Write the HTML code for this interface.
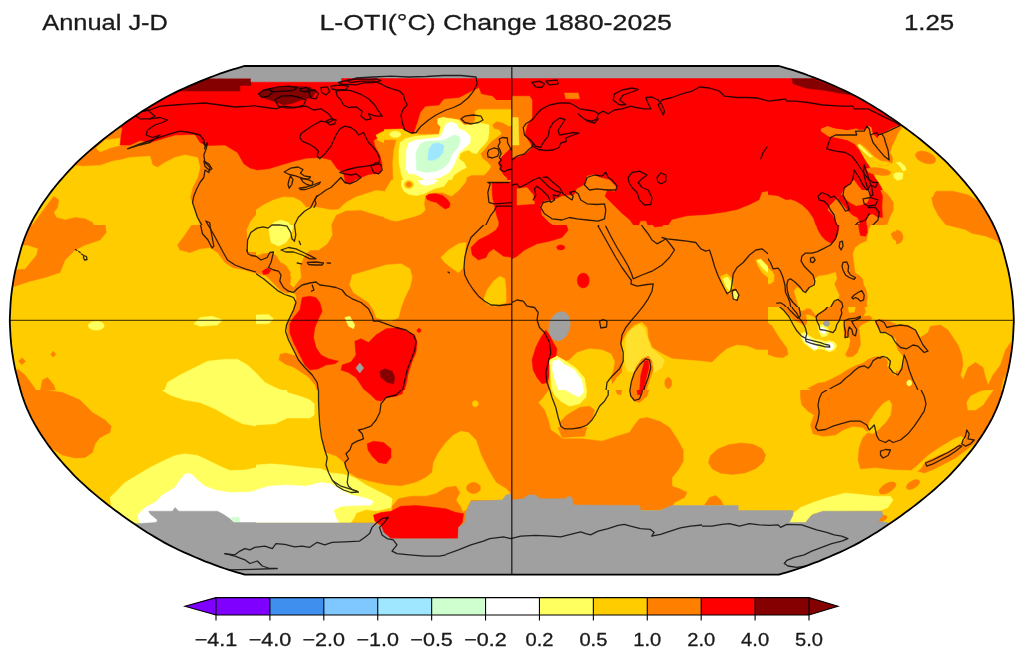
<!DOCTYPE html><html><head><meta charset="utf-8"><title>map</title><style>html,body{margin:0;padding:0;background:#fff;width:1027px;height:660px;overflow:hidden}</style></head><body><svg width="1027" height="660" viewBox="0 0 1027 660" style="position:absolute;left:0;top:0;font-family:'Liberation Sans',sans-serif">
<defs><clipPath id="m"><path d="M779.0 66.0 L782.9 67.2 L786.8 68.3 L790.7 69.4 L794.7 70.7 L799.0 72.1 L803.7 73.7 L808.5 75.5 L813.5 77.4 L818.6 79.3 L823.7 81.4 L828.9 83.6 L834.2 85.9 L839.5 88.2 L844.7 90.6 L849.7 93.1 L854.5 95.5 L859.2 98.0 L863.7 100.6 L868.2 103.2 L872.5 105.8 L876.8 108.4 L881.0 111.1 L885.1 113.8 L889.1 116.6 L893.2 119.3 L897.2 122.1 L901.1 124.9 L905.0 127.8 L908.9 130.6 L912.7 133.5 L916.5 136.4 L920.2 139.3 L923.8 142.2 L927.4 145.2 L931.0 148.2 L934.4 151.1 L937.8 154.2 L941.1 157.2 L944.4 160.2 L947.5 163.2 L950.5 166.3 L953.4 169.4 L956.2 172.4 L959.0 175.5 L961.7 178.6 L964.4 181.7 L967.0 184.8 L969.6 188.0 L972.1 191.1 L974.4 194.2 L976.7 197.4 L978.9 200.5 L981.0 203.6 L983.1 206.8 L985.0 209.9 L986.9 213.1 L988.8 216.2 L990.5 219.4 L992.2 222.5 L993.7 225.7 L995.2 228.9 L996.6 232.0 L997.9 235.2 L999.1 238.3 L1000.2 241.5 L1001.3 244.6 L1002.3 247.8 L1003.2 250.9 L1004.0 254.1 L1004.9 257.2 L1005.7 260.4 L1006.5 263.5 L1007.3 266.7 L1008.1 269.8 L1008.8 273.0 L1009.4 276.2 L1010.0 279.3 L1010.5 282.5 L1011.0 285.6 L1011.5 288.8 L1011.9 291.9 L1012.3 295.1 L1012.6 298.2 L1012.9 301.4 L1013.1 304.5 L1013.3 308.2 L1013.5 312.4 L1013.7 316.3 L1013.8 319.2 L1013.8 320.3 L1013.8 321.4 L1013.7 324.3 L1013.5 328.2 L1013.3 332.4 L1013.1 336.1 L1012.9 339.2 L1012.6 342.4 L1012.3 345.5 L1011.9 348.7 L1011.5 351.8 L1011.0 355.0 L1010.5 358.1 L1010.0 361.3 L1009.4 364.4 L1008.8 367.6 L1008.1 370.8 L1007.3 373.9 L1006.5 377.1 L1005.7 380.2 L1004.9 383.4 L1004.0 386.5 L1003.2 389.7 L1002.3 392.8 L1001.3 396.0 L1000.2 399.1 L999.1 402.3 L997.9 405.4 L996.6 408.6 L995.2 411.7 L993.7 414.9 L992.2 418.1 L990.5 421.2 L988.8 424.4 L986.9 427.5 L985.0 430.7 L983.1 433.8 L981.0 437.0 L978.9 440.1 L976.7 443.2 L974.4 446.4 L972.1 449.5 L969.6 452.6 L967.0 455.8 L964.4 458.9 L961.7 462.0 L959.0 465.1 L956.2 468.2 L953.4 471.2 L950.5 474.3 L947.5 477.4 L944.4 480.4 L941.1 483.4 L937.8 486.4 L934.4 489.5 L931.0 492.4 L927.4 495.4 L923.8 498.4 L920.2 501.3 L916.5 504.2 L912.7 507.1 L908.9 510.0 L905.0 512.8 L901.1 515.7 L897.2 518.5 L893.2 521.3 L889.1 524.0 L885.1 526.8 L881.0 529.5 L876.8 532.2 L872.5 534.8 L868.2 537.4 L863.7 540.0 L859.2 542.6 L854.5 545.1 L849.7 547.5 L844.7 550.0 L839.5 552.4 L834.2 554.7 L828.9 557.0 L823.7 559.2 L818.6 561.3 L813.5 563.2 L808.5 565.1 L803.7 566.9 L799.0 568.5 L794.7 569.9 L790.7 571.2 L786.8 572.3 L782.9 573.4 L779.0 574.6 L244.6 574.6 L240.7 573.4 L236.8 572.3 L232.9 571.2 L228.9 569.9 L224.6 568.5 L219.9 566.9 L215.1 565.1 L210.1 563.2 L205.0 561.3 L199.9 559.2 L194.7 557.0 L189.4 554.7 L184.1 552.4 L178.9 550.0 L173.9 547.5 L169.1 545.1 L164.4 542.6 L159.9 540.0 L155.4 537.4 L151.1 534.8 L146.8 532.2 L142.6 529.5 L138.5 526.8 L134.5 524.0 L130.4 521.3 L126.4 518.5 L122.5 515.7 L118.6 512.8 L114.7 510.0 L110.9 507.1 L107.1 504.2 L103.4 501.3 L99.8 498.4 L96.2 495.4 L92.6 492.4 L89.2 489.5 L85.8 486.4 L82.5 483.4 L79.2 480.4 L76.1 477.4 L73.1 474.3 L70.2 471.2 L67.4 468.2 L64.6 465.1 L61.9 462.0 L59.2 458.9 L56.6 455.8 L54.0 452.6 L51.5 449.5 L49.2 446.4 L46.9 443.2 L44.7 440.1 L42.6 437.0 L40.5 433.8 L38.6 430.7 L36.7 427.5 L34.8 424.4 L33.1 421.2 L31.4 418.1 L29.9 414.9 L28.4 411.7 L27.0 408.6 L25.7 405.4 L24.5 402.3 L23.4 399.1 L22.3 396.0 L21.3 392.8 L20.4 389.7 L19.6 386.5 L18.7 383.4 L17.9 380.2 L17.1 377.1 L16.3 373.9 L15.5 370.8 L14.8 367.6 L14.2 364.4 L13.6 361.3 L13.1 358.1 L12.6 355.0 L12.1 351.8 L11.7 348.7 L11.3 345.5 L11.0 342.4 L10.7 339.2 L10.5 336.1 L10.3 332.4 L10.1 328.2 L9.9 324.3 L9.8 321.4 L9.8 320.3 L9.8 319.2 L9.9 316.3 L10.1 312.4 L10.3 308.2 L10.5 304.5 L10.7 301.4 L11.0 298.2 L11.3 295.1 L11.7 291.9 L12.1 288.8 L12.6 285.6 L13.1 282.5 L13.6 279.3 L14.2 276.2 L14.8 273.0 L15.5 269.8 L16.3 266.7 L17.1 263.5 L17.9 260.4 L18.7 257.2 L19.6 254.1 L20.4 250.9 L21.3 247.8 L22.3 244.6 L23.4 241.5 L24.5 238.3 L25.7 235.2 L27.0 232.0 L28.4 228.9 L29.9 225.7 L31.4 222.5 L33.1 219.4 L34.8 216.2 L36.7 213.1 L38.6 209.9 L40.5 206.8 L42.6 203.6 L44.7 200.5 L46.9 197.4 L49.2 194.2 L51.5 191.1 L54.0 188.0 L56.6 184.8 L59.2 181.7 L61.9 178.6 L64.6 175.5 L67.4 172.4 L70.2 169.4 L73.1 166.3 L76.1 163.2 L79.2 160.2 L82.5 157.2 L85.8 154.2 L89.2 151.1 L92.6 148.2 L96.2 145.2 L99.8 142.2 L103.4 139.3 L107.1 136.4 L110.9 133.5 L114.7 130.6 L118.6 127.8 L122.5 124.9 L126.4 122.1 L130.4 119.3 L134.5 116.6 L138.5 113.8 L142.6 111.1 L146.8 108.4 L151.1 105.8 L155.4 103.2 L159.9 100.6 L164.4 98.0 L169.1 95.5 L173.9 93.1 L178.9 90.6 L184.1 88.2 L189.4 85.9 L194.7 83.6 L199.9 81.4 L205.0 79.3 L210.1 77.4 L215.1 75.5 L219.9 73.7 L224.6 72.1 L228.9 70.7 L232.9 69.4 L236.8 68.3 L240.7 67.2 L244.6 66.0Z"/></clipPath></defs>
<g clip-path="url(#m)">
<rect x="0" y="60" width="1027" height="520" fill="#ff8000"/>
<clipPath id="c0"><rect x="0.0" y="60.0" width="256.0" height="165.0"/></clipPath>
<g clip-path="url(#c0)">
<rect x="0.0" y="60.0" width="256.0" height="165.0" fill="#ff8000"/>
<path d="M83.8 166.2 100.0 165.5 112.5 161.2 120.0 160.0 130.0 157.5 150.0 156.2 152.5 165.0 157.5 167.5 165.0 162.5 175.0 157.5 185.0 155.0 197.5 157.5 200.0 167.5 197.5 177.5 192.5 187.5 190.0 197.5 193.8 207.5 197.5 217.5 200.0 227.5 0.0 227.5 0.0 160.0Z" fill="#ffcc00" stroke="#ffcc00" stroke-width="0.5" stroke-linejoin="round"/>
<path d="M96.2 148.0 105.0 140.0 121.2 138.0 121.2 145.0 110.0 148.0 100.0 152.0Z" fill="#ffcc00" stroke="#ffcc00" stroke-width="0.5" stroke-linejoin="round"/>
<path d="M25.0 235.0 53.8 196.2 58.8 200.0 57.5 207.5 53.8 212.5 56.2 217.5 65.0 220.0 75.0 217.5 85.0 218.8 92.5 222.5 95.0 227.5Z" fill="#ff8000" stroke="#ff8000" stroke-width="0.5" stroke-linejoin="round"/>
<path d="M117.5 123.8 122.5 128.8 121.2 135.0 120.0 145.0 130.0 145.0 140.0 140.5 150.0 142.5 160.0 139.5 175.0 135.0 195.0 134.5 200.0 142.5 207.5 145.5 225.0 145.0 237.5 152.5 243.8 163.8 250.0 168.0 257.5 170.0 257.5 60.0 117.5 60.0Z" fill="#ff0000" stroke="#ff0000" stroke-width="0.5" stroke-linejoin="round"/>
<path d="M150.0 78.5 251.0 78.5 251.0 85.5 240.0 85.5 240.0 91.0 150.0 91.0Z" fill="#850000" stroke="#850000" stroke-width="0.5" stroke-linejoin="round"/>
<path d="M200.0 60.0 257.5 60.0 257.5 81.8 251.0 81.8 251.0 78.2 200.0 78.2Z" fill="#a0a0a0" stroke="#a0a0a0" stroke-width="0.5" stroke-linejoin="round"/>
</g>
<clipPath id="c1"><rect x="256.0" y="60.0" width="256.0" height="165.0"/></clipPath>
<g clip-path="url(#c1)">
<rect x="256.0" y="60.0" width="256.0" height="165.0" fill="#ff8000"/>
<path d="M256.0 170.0 268.5 168.8 281.0 165.0 293.5 161.2 306.0 158.2 321.0 157.5 331.0 160.0 337.2 168.8 343.5 173.0 345.5 183.0 351.0 183.0 356.0 179.5 368.5 174.5 380.5 173.0 382.2 165.0 379.8 155.0 374.8 146.2 373.5 140.5 381.0 135.0 391.0 128.0 401.0 126.2 408.5 131.2 413.5 133.0 416.0 122.5 425.0 108.8 441.5 104.5 444.0 98.8 459.0 97.5 471.5 91.0 479.0 87.5 481.5 93.8 492.8 96.0 496.5 100.0 513.5 100.0 513.5 60.0 256.0 60.0Z" fill="#ff0000" stroke="#ff0000" stroke-width="0.5" stroke-linejoin="round"/>
<path d="M259.8 92.5 266.0 88.8 281.0 87.5 296.0 86.2 309.8 87.0 316.0 91.2 312.2 97.5 301.0 100.0 293.5 103.0 283.5 105.0 273.5 101.2 266.0 98.8 259.8 96.2Z" fill="#850000" stroke="#850000" stroke-width="0.5" stroke-linejoin="round"/>
<path d="M256.0 210.0 263.5 205.0 273.5 200.0 283.5 197.0 293.5 197.5 301.0 201.2 306.0 207.5 313.5 207.0 321.0 208.0 331.0 210.0 338.5 209.5 346.0 202.5 356.0 197.0 368.5 193.0 376.0 190.5 386.0 191.5 391.0 185.0 394.0 172.5 393.0 160.0 394.8 147.5 386.0 143.8 378.5 140.5 376.0 135.0 383.5 131.2 396.0 130.0 403.5 135.0 416.0 135.0 481.0 135.0 481.0 200.0 416.0 190.0 426.0 200.0 431.0 210.0 416.0 220.0 396.0 218.8 381.0 216.2 361.0 210.0 346.0 210.5 336.0 215.0 329.8 227.5 256.0 227.5Z" fill="#ffcc00" stroke="#ffcc00" stroke-width="0.5" stroke-linejoin="round"/>
<path d="M383.5 135.0 387.2 131.2 396.0 131.2 399.8 135.0 396.0 138.0 387.2 138.0Z" fill="#ffff5f" stroke="#ffff5f" stroke-width="0.5" stroke-linejoin="round"/>
<path d="M269.8 227.5 273.5 222.5 281.0 220.0 288.5 222.5 291.0 227.5Z" fill="#ffff5f" stroke="#ffff5f" stroke-width="0.5" stroke-linejoin="round"/>
<path d="M256.0 60.0 513.5 60.0 513.5 78.0 341.0 78.0 341.0 81.8 256.0 81.8Z" fill="#a0a0a0" stroke="#a0a0a0" stroke-width="0.5" stroke-linejoin="round"/>
</g>
<clipPath id="c2"><rect x="384.0" y="100.0" width="128.0" height="82.0"/></clipPath>
<g clip-path="url(#c2)">
<rect x="384.0" y="100.0" width="128.0" height="82.0" fill="#ff8000"/>
<path d="M384.0 129.4 401.5 128.5 406.5 130.6 413.4 133.5 421.5 134.4 439.0 134.4 440.9 126.9 437.8 123.8 437.8 118.8 442.8 117.5 451.5 118.8 459.0 120.0 464.0 125.0 471.5 125.0 475.2 120.0 475.2 111.2 479.0 109.4 512.8 109.4 512.8 125.0 509.0 126.2 502.8 122.5 496.5 121.2 492.1 125.0 494.0 128.8 499.0 130.0 501.5 133.8 496.5 137.5 491.5 141.2 489.0 143.8 484.0 150.0 480.2 153.8 482.8 158.8 487.8 162.5 490.9 166.2 489.0 170.0 484.0 175.0 471.5 175.0 466.5 177.5 465.2 183.8 393.4 183.8 392.8 162.5 394.0 150.0 396.5 140.0 391.5 139.4 384.0 139.8Z" fill="#ffcc00" stroke="#ffcc00" stroke-width="0.5" stroke-linejoin="round"/>
<path d="M384.0 100.0 442.8 100.0 439.0 105.0 425.2 106.2 420.2 112.5 416.8 123.8 413.4 133.5 406.5 130.6 401.5 128.5 384.0 129.0Z" fill="#ff0000" stroke="#ff0000" stroke-width="0.5" stroke-linejoin="round"/>
<path d="M512.8 146.9 506.5 152.5 501.5 157.5 499.0 163.8 500.9 170.0 504.0 175.0 507.8 178.1 507.1 181.9 512.8 182.5Z" fill="#ff0000" stroke="#ff0000" stroke-width="0.5" stroke-linejoin="round"/>
<path d="M400.9 134.4 400.3 135.7 398.8 136.8 396.5 137.4 394.0 137.4 391.7 136.8 390.2 135.7 389.6 134.4 390.2 133.0 391.7 131.9 394.0 131.3 396.5 131.3 398.8 131.9 400.3 133.0Z" fill="#ffff5f" stroke="#ffff5f" stroke-width="0.5" stroke-linejoin="round"/>
<path d="M399.0 150.0 400.2 142.5 405.2 138.8 415.2 136.2 439.0 134.4 440.9 126.9 437.8 123.8 438.0 118.8 442.8 117.5 451.5 118.8 459.0 120.0 464.0 125.0 471.5 125.0 475.2 122.5 484.0 123.8 489.0 125.0 489.0 132.5 487.8 140.0 484.0 145.0 479.0 150.0 476.5 153.8 471.5 152.5 469.0 150.0 464.0 151.2 460.2 153.8 459.0 158.8 464.0 162.5 466.5 167.5 461.5 170.0 454.0 175.0 451.5 180.0 446.5 183.8 405.2 183.8 401.5 175.0 399.0 162.5Z" fill="#ffff5f" stroke="#ffff5f" stroke-width="0.5" stroke-linejoin="round"/>
<path d="M405.9 170.0 406.5 150.0 409.0 142.5 416.5 140.0 439.0 137.5 442.8 132.5 445.2 125.0 450.2 121.9 456.5 123.8 459.0 128.8 465.2 131.2 470.2 136.2 470.2 142.5 465.2 147.5 459.0 152.5 456.5 158.8 454.0 165.0 449.0 172.5 440.2 177.5 431.5 180.0 425.2 180.0 419.0 176.2 414.0 173.8 409.0 173.8Z" fill="#ffffff" stroke="#ffffff" stroke-width="0.5" stroke-linejoin="round"/>
<path d="M416.5 170.0 415.9 152.5 420.2 143.8 426.5 141.2 442.8 140.6 449.0 137.5 454.0 135.0 459.0 136.2 460.2 141.2 457.8 147.5 451.5 155.0 449.0 162.5 444.0 167.5 436.5 171.2 426.5 172.5 420.2 171.2Z" fill="#cfffcf" stroke="#cfffcf" stroke-width="0.5" stroke-linejoin="round"/>
<path d="M427.8 158.8 429.0 148.8 432.8 143.8 439.0 143.1 444.0 145.6 442.8 152.5 439.0 157.5 434.0 160.0 429.0 160.6Z" fill="#9fe7ff" stroke="#9fe7ff" stroke-width="0.5" stroke-linejoin="round"/>
<path d="M512.8 146.9 506.5 152.5 501.5 157.5 499.0 163.8 500.9 170.0 504.0 175.0 507.8 178.1 507.1 181.9 512.8 182.5Z" fill="#ff0000" stroke="#ff0000" stroke-width="0.5" stroke-linejoin="round"/>
</g>
<clipPath id="c3"><rect x="384.0" y="180.0" width="128.0" height="82.0"/></clipPath>
<g clip-path="url(#c3)">
<rect x="384.0" y="180.0" width="128.0" height="82.0" fill="#ff8000"/>
<path d="M391.5 180.0 387.8 186.2 384.0 192.5 384.0 217.5 390.2 220.0 396.5 221.2 402.8 219.4 415.2 216.2 421.5 213.8 425.2 210.0 424.0 203.8 425.2 196.2 434.0 192.5 442.8 192.5 451.5 196.2 459.0 190.0 465.2 182.5 466.5 179.4 391.5 179.4Z" fill="#ffcc00" stroke="#ffcc00" stroke-width="0.5" stroke-linejoin="round"/>
<path d="M401.5 179.4 401.5 186.2 404.0 191.2 409.0 194.4 416.5 195.6 424.0 193.8 434.0 188.8 444.0 186.2 449.0 179.4Z" fill="#ffff5f" stroke="#ffff5f" stroke-width="0.5" stroke-linejoin="round"/>
<path d="M417.8 179.4 420.2 183.8 425.2 185.6 434.0 183.8 439.0 179.4Z" fill="#ffffff" stroke="#ffffff" stroke-width="0.5" stroke-linejoin="round"/>
<path d="M413.5 184.5 413.0 186.3 411.7 187.8 409.8 188.6 407.7 188.6 405.8 187.8 404.5 186.3 404.0 184.5 404.5 182.7 405.8 181.2 407.7 180.4 409.8 180.4 411.7 181.2 413.0 182.7Z" fill="#ffcc00" stroke="#ffcc00" stroke-width="0.5" stroke-linejoin="round"/>
<path d="M411.5 184.5 411.2 185.6 410.5 186.5 409.4 186.9 408.1 186.9 407.0 186.5 406.3 185.6 406.0 184.5 406.3 183.4 407.0 182.5 408.1 182.1 409.4 182.1 410.5 182.5 411.2 183.4Z" fill="#ff8000" stroke="#ff8000" stroke-width="0.5" stroke-linejoin="round"/>
<path d="M425.9 196.2 429.0 194.0 436.5 193.8 442.8 195.6 447.8 200.0 450.2 203.8 449.0 207.5 445.2 209.0 440.2 205.6 436.5 202.5 431.5 201.2 427.1 199.4Z" fill="#ff0000" stroke="#ff0000" stroke-width="0.5" stroke-linejoin="round"/>
<path d="M441.5 263.8 444.0 257.5 449.0 252.5 455.2 247.5 461.5 243.8 465.2 242.5 465.2 263.8Z" fill="#ffcc00" stroke="#ffcc00" stroke-width="0.5" stroke-linejoin="round"/>
<path d="M492.1 182.5 509.0 182.5 512.8 180.0 512.8 263.8 509.0 257.5 504.0 253.8 496.5 250.0 491.5 248.8 490.2 255.0 484.0 258.1 477.8 259.4 471.5 255.0 470.2 251.2 474.0 246.2 479.0 240.0 487.8 237.5 494.0 235.0 497.8 228.8 499.0 222.5 496.5 215.0 495.2 208.8 494.0 203.8 492.8 198.8 492.1 190.0Z" fill="#ff0000" stroke="#ff0000" stroke-width="0.5" stroke-linejoin="round"/>
</g>
<clipPath id="c4"><rect x="512.0" y="60.0" width="256.0" height="165.0"/></clipPath>
<g clip-path="url(#c4)">
<rect x="512.0" y="60.0" width="256.0" height="165.0" fill="#ff0000"/>
<path d="M512.0 60.0 769.5 60.0 769.5 78.0 512.0 78.0Z" fill="#a0a0a0" stroke="#a0a0a0" stroke-width="0.5" stroke-linejoin="round"/>
<path d="M512.0 96.2 529.5 96.2 532.0 100.0 532.0 117.5 527.0 125.0 524.5 135.0 529.5 142.5 532.0 147.5 527.0 152.5 519.5 156.2 512.0 157.5Z" fill="#ff8000" stroke="#ff8000" stroke-width="0.5" stroke-linejoin="round"/>
<path d="M512.0 117.5 518.2 117.5 519.0 145.0 512.0 145.0Z" fill="#ffe02c" stroke="#ffe02c" stroke-width="0.5" stroke-linejoin="round"/>
<path d="M564.5 93.0 578.2 93.0 579.5 98.8 565.8 98.8Z" fill="#ff8000" stroke="#ff8000" stroke-width="0.5" stroke-linejoin="round"/>
<path d="M517.0 188.8 527.0 187.5 533.2 195.0 534.5 203.8 517.0 205.0Z" fill="#ff8000" stroke="#ff8000" stroke-width="0.5" stroke-linejoin="round"/>
<path d="M540.8 205.0 544.5 201.2 554.5 200.0 562.0 196.2 574.5 195.0 577.0 188.8 584.5 185.0 587.0 176.2 594.5 174.5 599.5 177.5 609.5 180.0 617.0 187.5 614.5 191.2 607.0 190.0 604.5 196.2 612.0 203.8 622.0 213.8 629.5 220.0 634.5 227.5 557.0 227.5 549.5 222.5 542.0 215.0Z" fill="#ff8000" stroke="#ff8000" stroke-width="0.5" stroke-linejoin="round"/>
<path d="M667.0 227.5 672.0 220.0 687.0 216.2 707.0 215.0 724.5 212.5 737.0 210.0 749.5 205.0 759.5 200.0 762.0 192.5 769.5 191.2 769.5 227.5Z" fill="#ff8000" stroke="#ff8000" stroke-width="0.5" stroke-linejoin="round"/>
<path d="M638.2 227.5 640.8 221.2 645.8 221.2 648.2 227.5Z" fill="#ff8000" stroke="#ff8000" stroke-width="0.5" stroke-linejoin="round"/>
</g>
<clipPath id="c5"><rect x="768.0" y="60.0" width="256.0" height="165.0"/></clipPath>
<g clip-path="url(#c5)">
<rect x="768.0" y="60.0" width="256.0" height="165.0" fill="#ff0000"/>
<path d="M898.0 123.8 908.0 127.5 928.0 142.5 1025.5 142.5 1025.5 227.5 894.2 227.5 894.2 212.5 893.0 203.8 888.0 196.2 885.5 185.0 888.0 177.5 885.5 170.0 893.0 160.0 890.5 150.0 893.0 142.5 898.0 135.0Z" fill="#ffcc00" stroke="#ffcc00" stroke-width="0.5" stroke-linejoin="round"/>
<path d="M931.8 197.5 938.0 191.2 953.0 191.2 968.0 195.0 980.5 202.5 988.0 212.5 993.0 225.0 993.0 227.5 948.0 227.5 938.0 215.0 933.0 205.0Z" fill="#ff8000" stroke="#ff8000" stroke-width="0.5" stroke-linejoin="round"/>
<path d="M768.0 195.0 778.0 196.2 785.5 200.0 793.0 200.0 805.5 207.5 818.0 215.0 828.0 222.5 830.5 227.5 768.0 227.5Z" fill="#ff8000" stroke="#ff8000" stroke-width="0.5" stroke-linejoin="round"/>
<path d="M893.0 125.5 898.0 123.0 908.0 127.0 918.0 135.0 908.0 135.0 898.0 135.0Z" fill="#ff8000" stroke="#ff8000" stroke-width="0.5" stroke-linejoin="round"/>
<path d="M791.8 78.2 811.8 78.2 853.0 95.0 843.0 93.8 825.5 90.5 805.5 88.0 793.0 83.8Z" fill="#850000" stroke="#850000" stroke-width="0.5" stroke-linejoin="round"/>
<path d="M768.0 60.0 818.0 60.0 818.0 78.0 768.0 78.0Z" fill="#a0a0a0" stroke="#a0a0a0" stroke-width="0.5" stroke-linejoin="round"/>
</g>
<clipPath id="c6"><rect x="768.0" y="60.0" width="256.0" height="165.0"/></clipPath>
<g clip-path="url(#c6)">
</g>
<clipPath id="c7"><rect x="810.0" y="115.0" width="128.0" height="82.0"/></clipPath>
<g clip-path="url(#c7)">
<rect x="810.0" y="115.0" width="128.0" height="82.0" fill="#ffcc00"/>
<path d="M810.0 115.0 890.0 115.0 897.5 122.5 900.0 126.2 897.5 126.2 891.2 128.8 885.0 132.5 880.0 133.8 877.5 138.8 872.5 133.8 871.2 127.5 868.8 126.2 865.0 130.0 858.8 130.0 856.2 128.8 847.5 130.6 835.0 128.8 827.5 126.5 821.2 129.0 821.2 131.2 828.8 136.2 835.0 137.2 847.5 140.0 855.0 144.0 860.0 151.2 865.0 160.0 870.0 167.5 875.0 177.5 880.0 185.0 883.8 192.5 885.0 198.8 810.0 198.8Z" fill="#ff0000" stroke="#ff0000" stroke-width="0.5" stroke-linejoin="round"/>
<path d="M821.2 129.0 827.5 126.5 835.0 128.8 847.5 130.6 856.2 128.8 858.8 130.0 865.0 130.0 868.8 126.2 871.2 127.5 872.5 133.8 877.5 138.8 880.0 133.8 885.0 132.5 891.2 128.8 897.5 126.2 901.9 127.5 897.5 133.8 895.0 140.0 891.9 146.2 890.0 152.5 892.5 157.5 892.5 162.5 887.5 165.2 880.0 165.0 872.5 161.5 867.5 157.5 862.5 152.5 857.5 147.5 855.0 144.0 847.5 140.0 835.0 137.2 828.8 136.2 821.2 131.2Z" fill="#ff8000" stroke="#ff8000" stroke-width="0.5" stroke-linejoin="round"/>
<path d="M857.5 144.4 860.0 144.0 865.0 147.5 870.0 152.5 875.0 157.5 881.2 161.2 887.5 161.9 891.2 163.8 885.0 165.6 877.5 164.4 871.2 160.6 865.0 155.0 860.0 149.4Z" fill="#ffcc00" stroke="#ffcc00" stroke-width="0.5" stroke-linejoin="round"/>
<path d="M858.1 145.0 860.0 145.0 866.2 151.2 872.5 156.9 870.0 156.9 863.8 151.9 859.4 147.5Z" fill="#ffff5f" stroke="#ffff5f" stroke-width="0.5" stroke-linejoin="round"/>
<path d="M866.2 168.8 872.5 167.5 880.0 168.1 887.5 170.0 891.2 172.5 888.8 175.0 882.5 175.6 875.0 174.4 868.8 172.5Z" fill="#ff8000" stroke="#ff8000" stroke-width="0.5" stroke-linejoin="round"/>
<path d="M896.2 162.5 900.0 161.9 905.0 166.2 906.2 170.0 903.1 171.2 900.0 166.2Z" fill="#ffff5f" stroke="#ffff5f" stroke-width="0.5" stroke-linejoin="round"/>
<path d="M893.8 173.8 897.5 172.5 903.1 173.1 902.5 178.8 897.5 180.6 893.8 177.5Z" fill="#ffff5f" stroke="#ffff5f" stroke-width="0.5" stroke-linejoin="round"/>
<path d="M935.6 161.1 933.8 163.1 930.3 163.9 926.0 163.5 921.5 161.8 917.9 159.4 915.8 156.5 915.6 153.9 917.5 151.9 920.9 151.1 925.3 151.5 929.7 153.2 933.4 155.6 935.5 158.5Z" fill="#ff8000" stroke="#ff8000" stroke-width="0.5" stroke-linejoin="round"/>
<path d="M853.8 180.0 857.5 185.0 862.5 191.2 866.2 198.8 841.2 198.8 843.8 190.0 848.8 185.0Z" fill="#ff8000" stroke="#ff8000" stroke-width="0.5" stroke-linejoin="round"/>
<path d="M932.5 198.8 935.0 192.5 938.8 190.0 938.8 198.8Z" fill="#ff8000" stroke="#ff8000" stroke-width="0.5" stroke-linejoin="round"/>
</g>
<clipPath id="c8"><rect x="790.0" y="190.0" width="128.0" height="82.0"/></clipPath>
<g clip-path="url(#c8)">
<rect x="790.0" y="190.0" width="128.0" height="82.0" fill="#ff8000"/>
<path d="M882.5 189.4 888.8 195.0 893.8 202.5 893.8 210.0 890.0 217.5 887.5 225.0 880.0 225.6 875.0 226.2 870.0 232.5 867.5 240.0 860.0 242.5 855.0 246.2 853.8 252.5 855.0 260.0 855.0 273.8 918.8 273.8 918.8 189.4Z" fill="#ffcc00" stroke="#ffcc00" stroke-width="0.5" stroke-linejoin="round"/>
<path d="M902.3 235.6 903.2 238.9 902.8 242.0 901.3 244.4 898.9 245.5 896.0 245.2 893.4 243.5 891.4 240.7 890.6 237.4 890.9 234.2 892.5 231.8 894.9 230.7 897.7 231.1 900.4 232.8Z" fill="#ff8000" stroke="#ff8000" stroke-width="0.5" stroke-linejoin="round"/>
<path d="M790.0 189.4 843.8 189.4 841.2 193.8 837.5 197.5 833.8 201.2 828.8 206.2 827.5 210.0 832.5 215.0 836.2 222.5 838.8 230.0 837.5 237.5 833.8 242.5 828.8 242.5 823.8 238.8 820.0 233.8 816.2 226.2 813.8 218.8 808.8 211.2 802.5 205.0 796.2 201.2 790.0 198.8Z" fill="#ff0000" stroke="#ff0000" stroke-width="0.5" stroke-linejoin="round"/>
<path d="M842.5 195.0 846.2 200.0 851.2 203.8 856.2 206.2 862.5 205.0 867.5 202.5 870.0 197.5 870.0 189.4 880.0 189.4 882.5 196.2 881.9 206.2 882.5 217.5 877.5 216.9 872.5 213.8 868.8 215.0 866.2 220.0 866.2 227.5 865.0 235.0 860.0 235.6 858.8 230.0 860.0 222.5 857.5 217.5 852.5 215.0 847.5 210.0 842.5 203.8 837.5 198.8 840.0 195.0Z" fill="#ff0000" stroke="#ff0000" stroke-width="0.5" stroke-linejoin="round"/>
</g>
<clipPath id="c9"><rect x="0.0" y="225.0" width="256.0" height="165.0"/></clipPath>
<g clip-path="url(#c9)">
<rect x="0.0" y="225.0" width="256.0" height="165.0" fill="#ffcc00"/>
<path d="M0.0 223.8 105.0 223.8 106.2 232.5 100.0 240.0 85.0 245.0 75.0 250.0 65.0 260.0 60.0 272.5 45.0 277.5 30.0 281.2 15.0 286.2 0.0 287.5Z" fill="#ff8000" stroke="#ff8000" stroke-width="0.5" stroke-linejoin="round"/>
<path d="M0.0 246.2 27.5 245.5 37.5 248.8 36.2 255.0 30.0 262.5 25.0 268.8 0.0 270.0Z" fill="#ffcc00" stroke="#ffcc00" stroke-width="0.5" stroke-linejoin="round"/>
<path d="M192.5 223.8 185.0 235.0 177.5 245.0 180.0 250.0 190.0 252.5 200.0 248.8 210.0 247.5 217.5 252.5 225.0 262.5 232.5 267.5 245.0 270.0 257.5 273.8 257.5 223.8Z" fill="#ff8000" stroke="#ff8000" stroke-width="0.5" stroke-linejoin="round"/>
<path d="M104.2 325.8 103.5 327.7 101.2 329.3 98.0 330.1 94.5 330.1 91.3 329.3 89.0 327.7 88.2 325.8 89.0 323.8 91.3 322.2 94.5 321.4 98.0 321.4 101.2 322.2 103.5 323.8Z" fill="#ffff5f" stroke="#ffff5f" stroke-width="0.5" stroke-linejoin="round"/>
<path d="M193.8 323.8 200.0 317.5 212.5 316.2 222.5 320.0 217.5 325.0 200.0 326.2Z" fill="#ffff5f" stroke="#ffff5f" stroke-width="0.5" stroke-linejoin="round"/>
<path d="M163.8 392.5 167.5 382.5 180.0 375.0 195.0 367.5 207.5 361.2 225.0 359.2 237.5 359.2 247.5 365.0 257.5 374.5 257.5 392.5Z" fill="#ffff5f" stroke="#ffff5f" stroke-width="0.5" stroke-linejoin="round"/>
<path d="M0.0 365.0 18.8 370.0 25.0 375.0 32.5 385.0 37.5 392.5 0.0 392.5Z" fill="#ff8000" stroke="#ff8000" stroke-width="0.5" stroke-linejoin="round"/>
<path d="M40.0 392.5 42.5 380.0 47.5 377.5 53.8 385.0 56.2 392.5Z" fill="#ff8000" stroke="#ff8000" stroke-width="0.5" stroke-linejoin="round"/>
<path d="M25.5 361.2 22.0 364.8 18.5 361.2 22.0 357.8Z" fill="#ff8000" stroke="#ff8000" stroke-width="0.5" stroke-linejoin="round"/>
<path d="M55.8 354.2 53.2 357.2 50.8 354.2 53.2 351.2Z" fill="#ff8000" stroke="#ff8000" stroke-width="0.5" stroke-linejoin="round"/>
</g>
<clipPath id="c10"><rect x="256.0" y="225.0" width="256.0" height="165.0"/></clipPath>
<g clip-path="url(#c10)">
<rect x="256.0" y="225.0" width="256.0" height="165.0" fill="#ff8000"/>
<path d="M256.0 223.8 331.0 223.8 332.2 235.0 327.2 243.8 318.5 250.0 309.8 250.0 303.5 257.5 299.8 266.2 301.0 277.5 293.5 287.5 288.5 282.5 291.0 272.5 286.0 265.0 281.0 262.5 276.0 255.0 271.0 252.5 263.5 253.8 256.0 257.5Z" fill="#ffcc00" stroke="#ffcc00" stroke-width="0.5" stroke-linejoin="round"/>
<path d="M256.0 256.2 263.5 253.8 271.0 253.0 273.5 257.5 271.0 265.0 276.0 262.5 283.5 263.8 287.2 270.0 291.0 277.5 289.8 285.0 284.8 287.5 278.5 281.2 273.5 275.0 266.0 275.0 256.0 271.2Z" fill="#ff8000" stroke="#ff8000" stroke-width="0.5" stroke-linejoin="round"/>
<path d="M256.0 273.8 266.0 276.2 273.5 283.8 281.0 291.2 287.2 293.8 293.5 291.2 296.0 297.5 293.5 307.5 289.8 317.5 286.0 325.0 287.2 335.0 291.0 345.0 296.0 355.0 293.5 355.0 286.0 352.5 279.8 353.8 278.5 360.0 286.0 365.0 293.5 367.5 301.0 372.5 308.5 377.5 314.8 385.0 317.2 392.5 256.0 392.5Z" fill="#ffcc00" stroke="#ffcc00" stroke-width="0.5" stroke-linejoin="round"/>
<path d="M256.0 315.0 268.5 314.5 273.5 318.8 268.5 323.8 256.0 323.8Z" fill="#ffff5f" stroke="#ffff5f" stroke-width="0.5" stroke-linejoin="round"/>
<path d="M256.0 373.0 265.0 382.5 275.0 387.5 287.5 392.5 256.0 392.5Z" fill="#ffff5f" stroke="#ffff5f" stroke-width="0.5" stroke-linejoin="round"/>
<path d="M268.5 227.5 273.5 223.8 293.5 223.8 291.0 235.0 286.0 242.5 278.5 246.2 271.0 242.5Z" fill="#ffff5f" stroke="#ffff5f" stroke-width="0.5" stroke-linejoin="round"/>
<path d="M344.8 317.5 349.8 316.2 354.8 325.0 353.5 328.8 348.5 326.2Z" fill="#ffff5f" stroke="#ffff5f" stroke-width="0.5" stroke-linejoin="round"/>
<path d="M352.2 275.0 361.0 272.5 373.5 268.8 386.0 265.0 401.0 263.8 409.8 268.8 412.2 277.5 409.8 287.5 404.8 297.5 401.0 307.5 398.5 317.5 391.0 321.2 383.5 320.0 376.0 317.5 373.5 310.0 368.5 302.5 361.0 297.5 353.5 292.5 349.8 285.0Z" fill="#ffcc00" stroke="#ffcc00" stroke-width="0.5" stroke-linejoin="round"/>
<path d="M441.0 257.5 448.5 250.0 458.5 243.8 466.0 242.5 464.8 255.0 463.5 267.5 458.5 272.5 451.0 267.5 444.8 262.5Z" fill="#ffcc00" stroke="#ffcc00" stroke-width="0.5" stroke-linejoin="round"/>
<path d="M483.5 300.0 487.2 290.0 493.5 281.2 499.8 276.2 504.8 278.8 506.0 290.0 506.0 302.5 496.0 306.2 488.5 305.0Z" fill="#ffcc00" stroke="#ffcc00" stroke-width="0.5" stroke-linejoin="round"/>
<path d="M471.0 247.5 478.5 240.0 488.5 235.0 496.0 230.0 499.8 223.8 513.5 223.8 513.5 257.5 503.5 256.2 493.5 248.8 488.5 252.5 486.0 257.5 478.5 260.0 472.2 255.0Z" fill="#ff0000" stroke="#ff0000" stroke-width="0.5" stroke-linejoin="round"/>
<path d="M302.2 297.5 309.8 296.2 316.0 297.5 319.8 302.5 322.2 311.2 318.5 318.8 314.8 327.5 313.5 337.5 316.0 347.5 321.0 355.0 328.5 358.8 338.5 361.2 334.8 363.8 326.0 365.0 318.5 368.8 309.8 370.0 304.8 365.0 299.8 355.0 293.5 342.5 289.8 332.5 289.8 323.8 293.5 317.5 299.8 310.0Z" fill="#ff0000" stroke="#ff0000" stroke-width="0.5" stroke-linejoin="round"/>
<path d="M354.8 341.2 361.0 338.8 368.5 342.5 376.0 335.0 386.0 328.8 398.5 327.5 406.0 331.2 414.8 335.0 417.2 342.5 416.0 352.5 412.2 361.2 408.5 372.5 406.0 385.0 403.5 392.5 366.0 392.5 361.0 385.0 356.0 377.5 348.5 372.5 341.0 370.0 342.2 365.0 351.0 362.0 356.0 355.0Z" fill="#ff0000" stroke="#ff0000" stroke-width="0.5" stroke-linejoin="round"/>
<path d="M379.8 371.2 384.8 368.8 392.2 371.2 394.8 377.5 393.5 383.8 387.2 382.5 381.0 377.5Z" fill="#850000" stroke="#850000" stroke-width="0.5" stroke-linejoin="round"/>
<path d="M363.8 368.0 359.8 373.0 355.8 368.0 359.8 363.0Z" fill="#a0a0a0" stroke="#a0a0a0" stroke-width="0.5" stroke-linejoin="round"/>
<path d="M262.2 271.2 267.2 268.0 271.0 270.0 268.5 273.8 263.5 274.5Z" fill="#ff0000" stroke="#ff0000" stroke-width="0.5" stroke-linejoin="round"/>
<path d="M421.0 330.5 420.8 331.4 420.2 332.1 419.4 332.4 418.6 332.4 417.8 332.1 417.2 331.4 417.0 330.5 417.2 329.6 417.8 328.9 418.6 328.6 419.4 328.6 420.2 328.9 420.8 329.6Z" fill="#ff0000" stroke="#ff0000" stroke-width="0.5" stroke-linejoin="round"/>
</g>
<clipPath id="c11"><rect x="512.0" y="225.0" width="256.0" height="165.0"/></clipPath>
<g clip-path="url(#c11)">
<rect x="512.0" y="225.0" width="256.0" height="165.0" fill="#ff8000"/>
<path d="M512.0 223.8 565.8 223.8 568.2 230.0 562.0 237.5 549.5 241.2 537.0 243.8 524.5 250.0 517.0 256.2 512.0 258.8Z" fill="#ff0000" stroke="#ff0000" stroke-width="0.5" stroke-linejoin="round"/>
<path d="M564.8 247.5 564.4 248.6 563.2 249.5 561.6 249.9 559.9 249.9 558.3 249.5 557.1 248.6 556.8 247.5 557.1 246.4 558.3 245.5 559.9 245.1 561.6 245.1 563.2 245.5 564.4 246.4Z" fill="#ff0000" stroke="#ff0000" stroke-width="0.5" stroke-linejoin="round"/>
<path d="M589.2 280.5 588.7 283.8 587.0 286.4 584.6 287.8 581.9 287.8 579.5 286.4 577.8 283.8 577.2 280.5 577.8 277.2 579.5 274.6 581.9 273.2 584.6 273.2 587.0 274.6 588.7 277.2Z" fill="#ff0000" stroke="#ff0000" stroke-width="0.5" stroke-linejoin="round"/>
<path d="M652.0 223.8 664.5 223.8 662.0 226.2 654.5 227.0Z" fill="#ff0000" stroke="#ff0000" stroke-width="0.5" stroke-linejoin="round"/>
<path d="M569.6 329.0 567.0 335.0 562.8 339.3 558.0 341.0 553.5 339.8 550.1 335.9 548.7 330.1 549.4 323.5 552.0 317.5 556.2 313.2 561.0 311.5 565.5 312.7 568.9 316.6 570.3 322.4Z" fill="#a0a0a0" stroke="#a0a0a0" stroke-width="0.5" stroke-linejoin="round"/>
<path d="M535.8 347.5 540.8 337.5 545.8 330.0 549.5 335.0 553.2 342.5 557.0 348.8 555.8 357.5 552.0 365.0 549.5 375.0 547.0 382.5 542.0 383.8 537.0 377.5 533.2 370.0 532.0 360.0Z" fill="#ff0000" stroke="#ff0000" stroke-width="0.5" stroke-linejoin="round"/>
<path d="M569.5 360.0 577.0 352.5 589.5 348.8 602.0 350.0 610.8 353.8 614.5 361.2 613.2 370.0 610.8 377.5 612.0 385.0 608.2 392.5 549.5 392.5 549.5 360.0 557.0 356.2 565.8 361.2Z" fill="#ffcc00" stroke="#ffcc00" stroke-width="0.5" stroke-linejoin="round"/>
<path d="M549.5 360.0 557.0 356.2 565.8 361.2 575.8 368.0 584.5 378.0 587.0 392.5 552.0 392.5Z" fill="#ffff5f" stroke="#ffff5f" stroke-width="0.5" stroke-linejoin="round"/>
<path d="M552.8 361.2 559.0 359.5 564.5 364.5 574.0 369.5 581.5 379.5 584.0 392.5 559.5 392.5 555.0 380.0 552.5 370.0Z" fill="#ffffff" stroke="#ffffff" stroke-width="0.5" stroke-linejoin="round"/>
<path d="M622.0 342.5 627.0 332.5 634.5 325.0 642.0 322.5 647.0 327.5 648.2 337.5 652.0 347.5 662.0 353.8 672.0 358.8 687.0 360.0 702.0 361.2 712.0 362.5 719.5 355.0 727.0 348.8 737.0 345.0 747.0 346.2 757.0 350.0 769.5 350.0 769.5 392.5 607.0 392.5 612.0 385.0 617.0 377.5 622.0 372.5 623.2 362.5 622.0 352.5Z" fill="#ffcc00" stroke="#ffcc00" stroke-width="0.5" stroke-linejoin="round"/>
<path d="M625.8 337.5 630.8 330.0 639.5 324.2 644.5 328.8 647.0 337.5 650.8 347.5 658.2 353.8 664.5 360.0 662.0 367.5 654.5 372.5 647.0 370.0 637.0 372.5 627.0 371.2 624.5 360.0Z" fill="#ffe02c" stroke="#ffe02c" stroke-width="0.5" stroke-linejoin="round"/>
<path d="M629.5 392.5 632.0 380.0 635.8 367.5 642.0 358.8 648.2 356.2 652.0 361.2 653.2 370.0 649.5 380.0 645.8 392.5Z" fill="#ff8000" stroke="#ff8000" stroke-width="0.5" stroke-linejoin="round"/>
<path d="M639.5 392.5 640.8 375.0 644.5 361.2 648.2 360.0 649.0 367.5 645.8 380.0 643.2 392.5Z" fill="#ff0000" stroke="#ff0000" stroke-width="0.5" stroke-linejoin="round"/>
<path d="M671.8 383.0 671.4 385.4 670.4 387.3 669.0 388.4 667.5 388.4 666.1 387.3 665.1 385.4 664.8 383.0 665.1 380.6 666.1 378.7 667.5 377.6 669.0 377.6 670.4 378.7 671.4 380.6Z" fill="#ff8000" stroke="#ff8000" stroke-width="0.5" stroke-linejoin="round"/>
<path d="M720.8 276.2 727.0 273.8 732.0 278.8 733.2 287.5 729.5 293.8 724.5 288.8 722.0 282.5Z" fill="#ffcc00" stroke="#ffcc00" stroke-width="0.5" stroke-linejoin="round"/>
<path d="M723.2 278.8 727.5 277.0 730.8 281.2 731.5 287.5 729.0 290.5 725.8 286.2Z" fill="#ffff5f" stroke="#ffff5f" stroke-width="0.5" stroke-linejoin="round"/>
<path d="M755.8 260.0 760.8 258.8 769.5 267.5 769.5 278.8 762.0 272.5 758.2 266.2Z" fill="#ffcc00" stroke="#ffcc00" stroke-width="0.5" stroke-linejoin="round"/>
<path d="M757.0 260.8 760.8 259.5 769.5 268.8 769.5 273.8 763.2 268.8Z" fill="#ffff5f" stroke="#ffff5f" stroke-width="0.5" stroke-linejoin="round"/>
<path d="M737.8 295.5 737.5 297.5 736.8 299.0 735.8 299.9 734.7 299.9 733.7 299.0 733.0 297.5 732.8 295.5 733.0 293.5 733.7 292.0 734.7 291.1 735.8 291.1 736.8 292.0 737.5 293.5Z" fill="#ffff5f" stroke="#ffff5f" stroke-width="0.5" stroke-linejoin="round"/>
</g>
<clipPath id="c12"><rect x="768.0" y="225.0" width="256.0" height="165.0"/></clipPath>
<g clip-path="url(#c12)">
<rect x="768.0" y="225.0" width="256.0" height="165.0" fill="#ffcc00"/>
<path d="M943.0 223.8 965.5 229.5 971.8 233.2 985.5 236.0 996.8 240.5 1005.5 250.0 1025.5 250.0 1025.5 223.8Z" fill="#ff8000" stroke="#ff8000" stroke-width="0.5" stroke-linejoin="round"/>
<path d="M903.0 237.0 902.4 240.0 900.6 242.5 898.1 243.8 895.4 243.8 892.9 242.5 891.1 240.0 890.5 237.0 891.1 234.0 892.9 231.5 895.4 230.2 898.1 230.2 900.6 231.5 902.4 234.0Z" fill="#ff8000" stroke="#ff8000" stroke-width="0.5" stroke-linejoin="round"/>
<path d="M875.5 321.2 883.0 320.0 888.0 325.0 898.0 325.0 908.0 325.0 915.5 330.0 920.5 337.5 928.0 332.5 930.5 326.2 940.5 325.0 948.0 330.0 953.0 337.5 958.0 345.0 961.8 355.0 963.0 365.0 960.5 375.0 963.0 380.0 968.0 367.5 975.5 362.5 983.0 367.5 985.5 377.5 988.0 385.0 993.0 375.0 1000.5 365.0 1005.5 350.0 1010.5 342.5 1011.8 355.0 1008.0 370.0 1003.0 380.0 1000.5 392.5 918.0 392.5 913.0 380.0 908.0 365.0 904.2 357.5 898.0 350.0 895.5 342.5 888.0 335.0 880.5 332.5 876.8 327.5Z" fill="#ff8000" stroke="#ff8000" stroke-width="0.5" stroke-linejoin="round"/>
<path d="M805.5 392.5 818.0 385.0 833.0 380.0 845.5 375.0 853.0 367.5 860.5 362.5 868.0 357.5 880.5 356.2 890.5 360.0 893.0 367.5 898.0 372.5 903.0 365.0 904.2 357.5 908.0 365.0 913.0 380.0 918.0 392.5Z" fill="#ff8000" stroke="#ff8000" stroke-width="0.5" stroke-linejoin="round"/>
<path d="M911.8 383.0 911.5 384.3 910.8 385.3 909.8 385.9 908.7 385.9 907.7 385.3 907.0 384.3 906.8 383.0 907.0 381.7 907.7 380.7 908.7 380.1 909.8 380.1 910.8 380.7 911.5 381.7Z" fill="#ffff5f" stroke="#ffff5f" stroke-width="0.5" stroke-linejoin="round"/>
</g>
<clipPath id="c13"><rect x="768.0" y="225.0" width="128.0" height="82.0"/></clipPath>
<g clip-path="url(#c13)">
<rect x="768.0" y="225.0" width="128.0" height="82.0" fill="#ff8000"/>
<path d="M816.1 224.4 839.2 224.4 838.6 230.0 836.8 236.2 834.2 241.2 830.5 243.1 825.5 240.0 821.8 236.2 818.0 230.0Z" fill="#ff0000" stroke="#ff0000" stroke-width="0.5" stroke-linejoin="round"/>
<path d="M858.6 224.4 866.8 224.4 867.4 232.5 865.5 236.2 860.5 235.6 859.2 230.0Z" fill="#ff0000" stroke="#ff0000" stroke-width="0.5" stroke-linejoin="round"/>
<path d="M871.8 224.4 869.2 228.8 868.0 235.0 866.8 241.2 860.5 243.8 855.5 247.5 853.0 253.8 854.2 262.5 855.5 272.5 859.2 275.0 863.0 278.8 864.2 285.0 866.8 290.0 868.0 297.5 866.8 302.5 868.0 308.8 896.8 308.8 896.8 224.4Z" fill="#ffcc00" stroke="#ffcc00" stroke-width="0.5" stroke-linejoin="round"/>
<path d="M891.1 233.8 894.2 231.2 896.8 232.5 896.8 241.2 893.0 238.8Z" fill="#ff8000" stroke="#ff8000" stroke-width="0.5" stroke-linejoin="round"/>
<path d="M814.2 280.0 818.0 276.2 826.8 275.0 835.5 272.5 836.8 278.8 834.2 283.8 836.1 288.8 839.2 295.0 838.0 300.0 833.0 302.5 829.2 308.8 799.2 308.8 796.8 300.0 794.2 291.2 796.8 287.5 801.8 290.0 805.5 292.5 809.2 287.5 814.2 285.0Z" fill="#ffcc00" stroke="#ffcc00" stroke-width="0.5" stroke-linejoin="round"/>
<path d="M768.0 268.1 771.8 271.2 774.2 275.0 773.6 281.2 770.5 283.8 768.0 283.8Z" fill="#ffcc00" stroke="#ffcc00" stroke-width="0.5" stroke-linejoin="round"/>
</g>
<clipPath id="c14"><rect x="768.0" y="307.0" width="128.0" height="82.0"/></clipPath>
<g clip-path="url(#c14)">
<rect x="768.0" y="307.0" width="128.0" height="82.0" fill="#ffcc00"/>
<path d="M768.0 323.2 771.8 325.8 775.5 332.0 780.5 339.5 786.8 348.2 788.0 354.5 783.0 357.6 775.5 357.0 768.0 354.5Z" fill="#ff8000" stroke="#ff8000" stroke-width="0.5" stroke-linejoin="round"/>
<path d="M779.9 306.4 784.2 310.1 788.0 313.9 793.0 319.5 799.2 322.6 805.5 325.8 807.0 322.0 805.5 314.5 809.2 314.5 815.5 317.6 818.0 320.5 843.0 320.5 845.5 318.9 855.5 318.9 863.0 316.4 865.5 312.0 864.2 306.4Z" fill="#ff8000" stroke="#ff8000" stroke-width="0.5" stroke-linejoin="round"/>
<path d="M848.0 306.4 855.5 306.4 854.2 312.0 849.2 312.6Z" fill="#ffcc00" stroke="#ffcc00" stroke-width="0.5" stroke-linejoin="round"/>
<path d="M799.2 306.4 826.8 306.4 823.0 310.1 818.0 313.2 815.6 315.0 813.0 311.4 810.5 308.5 806.8 308.0 804.2 310.1 800.8 310.8Z" fill="#ffcc00" stroke="#ffcc00" stroke-width="0.5" stroke-linejoin="round"/>
<path d="M845.5 318.9 863.0 316.4 869.2 315.8 872.4 318.2 868.0 321.4 863.0 323.9 858.6 327.6 859.9 335.8 860.5 344.5 857.4 352.6 853.0 356.4 847.4 357.0 845.5 354.5 849.2 347.0 850.5 339.5 848.6 335.8 844.9 337.0 843.6 329.5Z" fill="#ff8000" stroke="#ff8000" stroke-width="0.5" stroke-linejoin="round"/>
<path d="M875.5 320.8 880.5 319.5 888.0 320.8 896.8 324.5 896.8 339.5 891.8 335.8 886.8 332.0 880.5 330.8 876.8 325.8Z" fill="#ff8000" stroke="#ff8000" stroke-width="0.5" stroke-linejoin="round"/>
<path d="M804.2 390.8 810.5 387.0 818.0 383.2 825.5 382.0 833.0 378.2 840.5 374.5 848.0 369.5 855.5 365.8 863.0 363.2 868.0 359.5 874.2 357.0 880.5 356.4 885.5 358.2 888.0 362.0 886.8 365.8 890.5 372.0 896.8 377.0 896.8 390.8Z" fill="#ff8000" stroke="#ff8000" stroke-width="0.5" stroke-linejoin="round"/>
<path d="M800.5 333.9 804.2 332.0 809.2 335.8 815.5 339.5 820.5 340.1 825.5 341.4 829.2 340.8 834.2 342.0 836.8 345.8 834.2 350.1 829.2 352.0 824.2 349.5 818.0 348.9 814.2 350.8 809.2 347.0 804.2 343.2 801.1 338.2Z" fill="#ffff5f" stroke="#ffff5f" stroke-width="0.5" stroke-linejoin="round"/>
<path d="M802.4 336.4 805.5 335.1 810.5 339.5 814.2 343.2 818.0 344.5 816.8 348.9 813.0 348.9 808.0 344.5 804.2 340.8Z" fill="#ffffff" stroke="#ffffff" stroke-width="0.5" stroke-linejoin="round"/>
<path d="M833.6 346.4 833.2 348.0 832.0 349.3 830.2 350.0 828.3 350.0 826.5 349.3 825.3 348.0 824.9 346.4 825.3 344.7 826.5 343.4 828.3 342.7 830.2 342.7 832.0 343.4 833.2 344.7Z" fill="#ffffff" stroke="#ffffff" stroke-width="0.5" stroke-linejoin="round"/>
<path d="M818.0 325.8 823.0 324.5 826.8 327.0 829.2 330.8 826.8 335.8 821.8 337.0 819.2 332.0Z" fill="#ffff5f" stroke="#ffff5f" stroke-width="0.5" stroke-linejoin="round"/>
<path d="M819.9 327.6 823.6 327.6 826.1 330.8 824.2 333.9 821.1 332.6Z" fill="#ffffff" stroke="#ffffff" stroke-width="0.5" stroke-linejoin="round"/>
<path d="M829.6 323.5 829.3 324.7 828.4 325.7 827.2 326.2 825.8 326.2 824.6 325.7 823.7 324.7 823.4 323.5 823.7 322.3 824.6 321.3 825.8 320.8 827.2 320.8 828.4 321.3 829.3 322.3Z" fill="#a0a0a0" stroke="#a0a0a0" stroke-width="0.5" stroke-linejoin="round"/>
</g>
<clipPath id="c15"><rect x="192.0" y="170.0" width="64.0" height="82.0"/></clipPath>
<g clip-path="url(#c15)">
<path d="M247.0 253.8 247.6 240.0 247.0 230.0 250.8 221.2 257.0 213.8 267.0 205.0 279.5 198.8 279.5 253.8Z" fill="#ffcc00" stroke="#ffcc00" stroke-width="0.5" stroke-linejoin="round"/>
</g>
<clipPath id="c16"><rect x="192.0" y="170.0" width="128.0" height="82.0"/></clipPath>
<g clip-path="url(#c16)">
</g>
<clipPath id="c17"><rect x="0.0" y="390.0" width="256.0" height="190.0"/></clipPath>
<g clip-path="url(#c17)">
<rect x="0.0" y="390.0" width="256.0" height="190.0" fill="#ffcc00"/>
<path d="M0.0 388.8 37.5 388.8 62.5 392.5 80.0 400.0 92.5 412.5 105.0 420.0 111.2 426.2 110.0 432.5 100.0 437.5 95.0 443.8 92.5 452.5 85.0 457.5 75.0 458.0 62.5 455.0 50.0 447.5 0.0 447.5Z" fill="#ff8000" stroke="#ff8000" stroke-width="0.5" stroke-linejoin="round"/>
<path d="M160.0 388.8 170.0 395.0 185.0 400.0 200.0 402.5 215.0 408.8 230.0 417.5 242.5 423.8 257.5 426.2 257.5 388.8Z" fill="#ffff5f" stroke="#ffff5f" stroke-width="0.5" stroke-linejoin="round"/>
<path d="M110.0 497.5 117.5 490.0 125.0 482.5 137.5 475.0 150.0 467.5 162.5 461.2 175.0 455.5 185.0 453.8 197.5 455.5 207.5 460.0 220.0 466.2 230.0 470.5 245.0 470.0 257.5 467.5 257.5 530.0 125.0 530.0 117.5 515.0 111.2 505.0Z" fill="#ffff5f" stroke="#ffff5f" stroke-width="0.5" stroke-linejoin="round"/>
<path d="M137.5 515.0 145.0 507.5 155.0 502.5 162.5 495.0 175.0 487.5 180.0 480.0 185.0 473.8 191.2 473.8 197.5 480.0 205.0 486.2 215.0 490.0 230.0 492.5 250.0 492.0 257.5 490.0 257.5 525.0 140.0 525.0Z" fill="#ffffff" stroke="#ffffff" stroke-width="0.5" stroke-linejoin="round"/>
<path d="M231.2 517.5 238.8 517.0 240.0 522.5 233.8 522.5Z" fill="#cfffcf" stroke="#cfffcf" stroke-width="0.5" stroke-linejoin="round"/>
<path d="M148.8 511.2 172.5 511.2 175.0 507.5 178.8 511.2 217.5 511.2 222.5 513.8 230.0 518.8 233.8 522.5 257.5 522.5 257.5 590.0 100.0 590.0 135.0 523.8 156.2 522.5 157.5 520.0 150.0 513.8Z" fill="#a0a0a0" stroke="#a0a0a0" stroke-width="0.5" stroke-linejoin="round"/>
</g>
<clipPath id="c18"><rect x="256.0" y="390.0" width="256.0" height="190.0"/></clipPath>
<g clip-path="url(#c18)">
<rect x="256.0" y="390.0" width="256.0" height="190.0" fill="#ff8000"/>
<path d="M256.0 388.8 318.5 388.8 318.5 402.5 319.8 420.0 321.0 437.5 324.8 452.5 336.0 456.2 343.5 462.5 348.5 472.5 356.0 477.5 368.5 481.2 386.0 485.0 401.0 486.2 416.0 482.5 426.0 477.5 432.2 472.5 433.5 462.5 438.5 452.5 446.0 442.5 453.5 435.0 461.0 431.2 468.5 432.5 476.0 440.0 481.0 455.0 488.5 470.0 496.0 482.5 506.0 488.8 509.8 492.5 509.8 500.0 471.0 500.0 466.0 510.0 461.0 512.5 451.0 507.5 441.0 506.2 431.0 507.5 418.5 506.2 406.0 505.0 396.0 507.5 391.0 515.0 386.0 522.5 356.0 522.5 256.0 522.5Z" fill="#ffcc00" stroke="#ffcc00" stroke-width="0.5" stroke-linejoin="round"/>
<path d="M480.5 488.0 479.8 490.4 477.9 492.3 475.1 493.4 471.9 493.4 469.1 492.3 467.2 490.4 466.5 488.0 467.2 485.6 469.1 483.7 471.9 482.6 475.1 482.6 477.9 483.7 479.8 485.6Z" fill="#ff8000" stroke="#ff8000" stroke-width="0.5" stroke-linejoin="round"/>
<path d="M392.2 506.2 398.5 498.8 411.0 496.2 426.0 496.2 436.0 493.8 446.0 487.5 456.0 486.2 459.8 492.5 456.0 500.0 461.0 507.5 463.5 513.8 392.2 513.8Z" fill="#ff8000" stroke="#ff8000" stroke-width="0.5" stroke-linejoin="round"/>
<path d="M256.0 388.8 286.0 388.8 287.5 392.5 300.0 396.2 310.0 400.0 314.2 403.8 314.2 415.0 310.0 418.0 287.5 418.0 275.0 423.8 256.0 425.0Z" fill="#ffff5f" stroke="#ffff5f" stroke-width="0.5" stroke-linejoin="round"/>
<path d="M256.0 465.0 271.0 463.8 286.0 465.0 306.0 467.5 321.0 468.8 331.0 473.0 341.0 474.0 348.5 475.5 356.0 478.5 366.0 485.0 376.0 490.0 386.0 495.0 392.2 498.8 391.0 507.5 381.0 510.0 366.0 512.5 356.0 515.0 351.0 522.5 256.0 522.5Z" fill="#ffff5f" stroke="#ffff5f" stroke-width="0.5" stroke-linejoin="round"/>
<path d="M256.0 490.0 268.5 486.2 286.0 485.0 306.0 486.2 321.0 482.5 331.0 483.8 341.0 490.0 351.0 495.0 363.5 497.5 373.5 501.2 371.0 505.0 356.0 505.5 341.0 506.2 333.5 510.0 336.0 517.5 338.5 522.5 256.0 522.5Z" fill="#ffffff" stroke="#ffffff" stroke-width="0.5" stroke-linejoin="round"/>
<path d="M356.0 513.8 366.0 510.0 376.0 511.2 373.5 520.0 363.5 522.5 356.0 521.2Z" fill="#ffcc00" stroke="#ffcc00" stroke-width="0.5" stroke-linejoin="round"/>
<path d="M363.5 388.8 403.5 388.8 402.2 393.8 396.0 396.2 386.0 397.5 381.0 401.2 376.0 400.0 371.0 395.0Z" fill="#ff0000" stroke="#ff0000" stroke-width="0.5" stroke-linejoin="round"/>
<path d="M367.2 443.8 373.5 441.2 383.5 442.5 391.0 448.8 391.0 457.5 386.0 463.8 378.5 462.5 372.2 456.2 368.0 450.0Z" fill="#ff0000" stroke="#ff0000" stroke-width="0.5" stroke-linejoin="round"/>
<path d="M373.5 515.0 381.0 512.5 391.0 511.2 401.0 506.2 416.0 505.5 431.0 507.0 446.0 508.8 456.0 512.5 463.5 513.8 462.2 522.5 458.5 527.5 458.0 538.8 391.0 538.8 383.5 532.5 381.0 525.0 374.8 521.2Z" fill="#ff0000" stroke="#ff0000" stroke-width="0.5" stroke-linejoin="round"/>
<path d="M256.0 523.0 373.5 523.0 381.0 526.2 383.5 532.5 391.0 538.8 458.0 538.8 458.5 527.5 464.8 522.5 466.0 512.5 471.0 501.2 502.2 500.0 506.0 495.0 513.5 493.8 513.5 590.0 256.0 590.0Z" fill="#a0a0a0" stroke="#a0a0a0" stroke-width="0.5" stroke-linejoin="round"/>
<path d="M478.2 403.8 478.0 405.1 477.1 406.1 475.9 406.7 474.6 406.7 473.4 406.1 472.5 405.1 472.2 403.8 472.5 402.4 473.4 401.4 474.6 400.8 475.9 400.8 477.1 401.4 478.0 402.4Z" fill="#ffcc00" stroke="#ffcc00" stroke-width="0.5" stroke-linejoin="round"/>
</g>
<clipPath id="c19"><rect x="512.0" y="390.0" width="256.0" height="190.0"/></clipPath>
<g clip-path="url(#c19)">
<rect x="512.0" y="390.0" width="256.0" height="190.0" fill="#ffcc00"/>
<path d="M512.0 388.8 549.5 388.8 542.0 398.8 538.2 402.5 544.5 410.0 548.2 420.0 550.8 430.0 558.2 435.0 562.0 438.8 582.0 438.8 602.0 441.2 617.0 436.2 629.5 432.5 634.5 425.0 639.5 418.8 647.0 417.5 659.5 421.2 669.5 427.5 677.0 438.8 683.2 450.0 683.2 461.2 678.2 470.0 672.0 477.5 672.0 486.2 679.5 488.8 687.0 492.5 684.5 497.5 674.5 502.5 672.0 506.2 659.5 510.0 512.0 510.0Z" fill="#ff8000" stroke="#ff8000" stroke-width="0.5" stroke-linejoin="round"/>
<path d="M559.5 422.5 567.0 415.0 579.5 407.5 589.5 406.2 594.5 410.0 592.0 418.8 584.5 427.5 572.0 430.0 562.0 430.0Z" fill="#ff8000" stroke="#ff8000" stroke-width="0.5" stroke-linejoin="round"/>
<path d="M558.2 427.5 587.0 427.5 584.5 436.2 562.0 437.5Z" fill="#ff8000" stroke="#ff8000" stroke-width="0.5" stroke-linejoin="round"/>
<path d="M552.0 388.8 587.0 388.8 585.8 397.5 579.5 403.8 569.5 406.2 560.8 401.2 554.5 395.0Z" fill="#ffff5f" stroke="#ffff5f" stroke-width="0.5" stroke-linejoin="round"/>
<path d="M560.8 388.8 584.0 388.8 583.2 392.5 579.0 397.0 572.0 393.8 565.8 390.0Z" fill="#ffffff" stroke="#ffffff" stroke-width="0.5" stroke-linejoin="round"/>
<path d="M615.8 388.8 622.0 388.8 620.8 395.0 617.0 393.8Z" fill="#ff8000" stroke="#ff8000" stroke-width="0.5" stroke-linejoin="round"/>
<path d="M629.5 388.8 649.5 388.8 647.0 396.2 639.5 402.5 634.5 401.2 630.8 396.2Z" fill="#ff8000" stroke="#ff8000" stroke-width="0.5" stroke-linejoin="round"/>
<path d="M637.0 388.8 642.0 388.8 640.8 395.0 637.5 394.5Z" fill="#ff0000" stroke="#ff0000" stroke-width="0.5" stroke-linejoin="round"/>
<path d="M765.5 454.7 763.6 461.8 756.4 468.3 745.4 472.8 732.8 474.6 720.9 473.2 712.3 469.0 708.5 462.8 710.4 455.7 717.6 449.2 728.6 444.7 741.2 442.9 753.1 444.3 761.7 448.5Z" fill="#ff8000" stroke="#ff8000" stroke-width="0.5" stroke-linejoin="round"/>
<path d="M704.5 505.0 709.5 497.5 715.8 495.5 720.8 500.0 723.2 505.0Z" fill="#ff8000" stroke="#ff8000" stroke-width="0.5" stroke-linejoin="round"/>
<path d="M512.0 500.0 523.2 498.8 528.2 495.0 535.8 495.0 539.5 498.8 565.8 498.8 568.2 496.2 572.0 497.5 573.2 505.0 639.5 505.5 640.8 510.5 659.5 510.5 672.0 505.5 738.2 505.5 738.2 510.5 769.5 510.5 769.5 590.0 512.0 590.0Z" fill="#a0a0a0" stroke="#a0a0a0" stroke-width="0.5" stroke-linejoin="round"/>
</g>
<clipPath id="c20"><rect x="768.0" y="390.0" width="256.0" height="190.0"/></clipPath>
<g clip-path="url(#c20)">
<rect x="768.0" y="390.0" width="256.0" height="190.0" fill="#ffcc00"/>
<path d="M800.5 388.8 1025.5 388.8 1025.5 442.5 976.8 441.2 973.0 444.5 965.5 450.5 955.5 458.0 943.0 464.5 933.0 469.5 924.2 473.0 918.0 471.2 910.5 470.0 893.0 469.5 875.5 467.5 860.5 468.8 858.0 460.0 859.2 447.5 863.0 437.5 868.0 432.5 863.0 427.5 853.0 426.2 843.0 430.0 835.5 435.0 823.0 436.2 813.0 433.8 810.5 425.0 814.2 415.0 808.0 411.2 801.8 405.0 800.5 397.5Z" fill="#ff8000" stroke="#ff8000" stroke-width="0.5" stroke-linejoin="round"/>
<path d="M868.0 432.5 869.2 422.5 875.5 412.5 883.0 403.8 889.2 400.0 891.8 405.0 890.5 415.0 885.5 422.5 878.0 430.0 873.0 433.8Z" fill="#ffcc00" stroke="#ffcc00" stroke-width="0.5" stroke-linejoin="round"/>
<path d="M966.8 402.5 970.5 396.2 980.5 391.2 994.2 388.8 988.0 397.5 983.0 405.0 975.5 410.0 968.0 410.0Z" fill="#ffcc00" stroke="#ffcc00" stroke-width="0.5" stroke-linejoin="round"/>
<path d="M911.8 470.0 918.0 465.0 928.0 455.5 940.5 447.0 953.0 439.5 960.5 436.2 965.5 438.8 960.5 443.8 948.0 451.2 938.0 455.5 925.5 461.2 920.5 468.8 915.5 472.5Z" fill="#ffcc00" stroke="#ffcc00" stroke-width="0.5" stroke-linejoin="round"/>
<path d="M895.7 483.2 895.9 485.4 894.4 488.1 891.5 490.7 887.9 492.9 884.1 494.0 881.1 494.0 879.3 492.8 879.1 490.6 880.6 487.9 883.5 485.3 887.1 483.1 890.9 482.0 893.9 482.0Z" fill="#ff8000" stroke="#ff8000" stroke-width="0.5" stroke-linejoin="round"/>
<path d="M919.5 480.8 919.7 482.5 918.5 484.7 916.3 486.8 913.4 488.5 910.4 489.4 908.0 489.3 906.5 488.2 906.3 486.5 907.5 484.3 909.7 482.2 912.6 480.5 915.6 479.6 918.0 479.7Z" fill="#ff8000" stroke="#ff8000" stroke-width="0.5" stroke-linejoin="round"/>
<path d="M886.9 516.6 886.7 518.0 885.5 519.6 883.3 521.0 880.7 522.0 878.1 522.3 876.2 521.9 875.1 520.9 875.3 519.5 876.5 517.9 878.7 516.5 881.3 515.5 883.9 515.2 885.8 515.6Z" fill="#ff8000" stroke="#ff8000" stroke-width="0.5" stroke-linejoin="round"/>
<path d="M789.2 522.5 793.0 513.8 800.5 507.5 813.0 502.5 828.0 497.5 845.5 493.0 860.5 494.5 875.5 496.2 890.5 496.2 893.0 500.0 888.0 507.5 880.5 510.5 823.0 511.2 813.0 513.8 805.5 522.5Z" fill="#ffff5f" stroke="#ffff5f" stroke-width="0.5" stroke-linejoin="round"/>
<path d="M768.0 510.5 793.0 510.5 793.0 515.0 789.2 522.5 805.5 522.5 811.8 515.0 823.0 511.2 881.8 511.2 883.0 515.0 878.0 521.2 888.0 522.5 888.0 590.0 768.0 590.0Z" fill="#a0a0a0" stroke="#a0a0a0" stroke-width="0.5" stroke-linejoin="round"/>
</g>
<clipPath id="c21"><rect x="190.0" y="480.0" width="256.0" height="100.0"/></clipPath>
<g clip-path="url(#c21)">
</g>
<clipPath id="c22"><rect x="446.0" y="480.0" width="256.0" height="100.0"/></clipPath>
<g clip-path="url(#c22)">
</g>
<clipPath id="c23"><rect x="702.0" y="480.0" width="256.0" height="100.0"/></clipPath>
<g clip-path="url(#c23)">
</g>
<clipPath id="c24"><rect x="256.0" y="75.0" width="128.0" height="82.0"/></clipPath>
<g clip-path="url(#c24)">
</g>
<g fill="none" stroke="#000" stroke-width="1.3" stroke-linejoin="round" stroke-linecap="round" opacity="0.8">
<g clip-path="url(#c0)">
<path d="M143.8 111.2 150.0 110.0 160.0 106.2 175.0 105.0 190.0 103.8 205.0 103.0 220.0 105.0 235.0 107.0 250.0 106.2 257.5 105.5"/>
<path d="M143.8 111.2 147.5 110.0 155.0 116.2 150.0 118.8 140.0 118.8 136.2 116.2"/>
<path d="M150.0 118.8 160.0 117.5 167.5 120.0 162.5 122.5 155.0 125.0 147.5 130.0 146.2 135.0 152.5 137.5 160.0 135.0 150.0 142.5 140.0 145.0 127.5 148.8 140.0 143.8 155.0 138.8 170.0 133.8 180.0 131.2 190.0 132.5 200.0 135.0 203.8 140.0 205.0 146.2 207.5 142.5 206.2 148.8 203.8 155.0 205.0 162.5 210.0 167.5 208.8 172.5 205.0 170.0 203.8 177.5 200.0 182.5 196.2 190.0 193.8 196.2 192.5 202.5 195.0 210.0 197.5 217.5 202.5 226.2"/>
<path d="M203.8 161.2 208.8 163.8 212.0 168.8 209.5 170.5 205.0 166.2Z"/>
<path d="M203.0 142.5 205.5 146.2 204.5 148.8"/>
<path d="M210.5 226.2 209.5 222.5 205.8 221.0 208.8 226.2"/>
</g>
<g clip-path="url(#c1)">
<path d="M347.2 81.2 356.0 78.0 373.5 77.0 391.0 76.2 408.5 77.0 426.0 76.5 443.5 75.5 461.0 75.5 476.0 77.0 477.2 83.8 473.5 91.2 468.5 97.5 461.0 103.8 453.5 107.5 446.0 110.0 436.0 115.0 428.5 120.0 421.0 126.2 416.0 132.5 411.0 133.0 404.8 130.0 402.2 122.5 401.0 115.0 403.5 108.8 407.2 105.0 404.8 100.0 403.5 95.0 399.8 91.2 392.2 88.8 384.8 86.2 381.0 83.8 373.5 81.2 361.0 81.2 351.0 82.5Z"/>
<path d="M461.0 118.8 464.8 116.2 473.5 115.0 481.0 116.2 483.0 120.0 478.5 122.5 471.0 123.8 464.8 122.5Z"/>
<path d="M488.8 150.0 493.8 148.0 498.0 148.8 499.2 152.5 497.5 156.2 492.5 158.0 488.0 156.8 487.5 153.0Z"/>
<path d="M502.5 137.5 507.5 138.0 507.5 142.5 510.0 147.5 512.5 152.5 513.5 160.0 512.5 165.0 513.0 168.8 507.5 170.0 503.8 171.8 500.0 169.2 501.8 166.2 498.8 163.0 501.2 160.0 499.2 157.5 501.2 153.8 500.0 150.0 498.0 146.2 500.0 142.5 499.2 139.2Z"/>
<path d="M509.0 182.5 487.8 182.5 490.2 183.8 487.8 192.5 489.0 202.5 494.0 203.8 513.5 202.5"/>
<path d="M513.5 206.2 496.5 206.2 494.0 211.2 490.2 216.2 486.5 223.8 482.2 230.0"/>
<path d="M256.0 106.2 266.0 107.5 276.0 108.8 283.5 106.2 293.5 107.5 306.0 106.2 313.5 110.0 321.0 108.8 328.5 113.8 333.5 120.0 328.5 122.5 321.0 121.2 313.5 125.0 306.0 130.0 301.0 133.8 299.8 137.5 302.2 141.2 308.5 143.8 314.8 147.5 318.5 151.2 317.2 156.2 319.8 158.8 324.8 153.8 331.0 146.2 336.0 135.0 339.8 128.8 344.8 126.2 351.0 127.5 356.0 131.2 358.5 135.0 363.5 132.5 366.0 137.5 368.5 142.5 373.5 147.5 377.2 152.5 379.8 158.8 378.5 163.8 373.5 165.0 366.0 166.2 356.0 167.5 346.0 170.0 339.8 172.5 344.8 173.8 351.0 175.0 356.0 173.8 361.0 177.5 356.0 181.2 349.8 183.8 344.8 182.5 341.0 177.5 336.0 182.5 331.0 187.5 326.0 190.0 321.0 193.8 317.2 196.2 314.8 200.0 316.0 203.8 314.0 207.5"/>
<path d="M371.0 166.2 376.0 162.5 381.0 165.0 382.2 170.0 378.5 173.8 373.5 172.5Z"/>
<path d="M284.2 172.0 290.5 168.2 298.0 167.0 303.0 169.5 300.5 173.2 304.2 175.8 310.5 177.0 308.0 179.5 301.8 178.2 295.5 175.8 289.2 174.5Z"/>
<path d="M290.5 175.8 293.0 179.5 291.8 184.5 289.2 188.2 288.0 184.5 289.2 179.5Z"/>
<path d="M300.5 178.2 308.0 179.5 313.0 182.0 311.8 185.8 306.8 184.5 303.0 182.0Z"/>
<path d="M299.2 188.2 306.8 187.0 314.2 184.5 320.5 182.0 319.2 184.0 313.0 187.0 305.5 189.5 300.5 189.5Z"/>
</g>
<g clip-path="url(#c4)">
<path d="M578.2 113.8 580.8 116.2 585.8 120.0 592.0 121.2 597.0 118.8 598.2 113.8 594.5 111.2 587.0 110.0 579.5 108.8 574.5 105.5 569.5 103.0 559.5 103.0 549.5 105.0 542.0 108.8 537.0 113.8 532.0 120.0 525.8 123.8 523.2 127.5 524.5 135.0 530.8 140.5 535.8 146.2 540.8 147.5 543.2 142.5 548.2 136.2 549.5 128.8 553.2 122.5 559.5 118.0 565.0 119.5 562.0 124.5 558.2 130.0 559.5 135.0 565.8 133.8 573.2 132.5 579.0 133.2 572.0 135.5 565.8 138.0 566.2 141.5 560.8 143.0 559.0 147.5 553.2 150.0 545.8 150.5 538.2 149.5 533.2 146.2 529.5 148.8 524.5 153.8 517.0 156.2 512.0 160.0"/>
<path d="M530.8 140.5 533.2 143.8 531.5 147.5"/>
<path d="M587.0 121.2 594.5 123.0 598.2 118.8"/>
<path d="M598.2 113.8 603.2 111.2 608.2 113.8 614.5 110.0 622.0 108.8 630.8 106.2 635.8 107.5 644.5 108.8 650.8 108.8 648.2 103.8 645.8 97.5 652.0 97.0 658.2 100.0 662.0 105.0 664.5 111.2 663.2 115.0 660.8 110.0 658.2 105.0 662.0 100.0 672.0 97.5 682.0 93.8 692.0 91.2 699.5 87.0 709.5 88.0 719.5 91.2 724.5 96.2 737.0 97.5 747.0 97.5 757.0 98.0 769.5 101.2"/>
<path d="M613.2 100.0 614.5 93.8 622.0 90.0 632.0 88.0 638.2 89.5 630.8 92.5 623.2 95.0 619.5 100.0 625.8 104.5 619.5 105.0Z"/>
<path d="M532.0 82.5 539.5 81.2 544.5 83.8 542.0 87.5 535.8 87.0Z"/>
<path d="M545.8 81.2 557.0 80.0 558.2 83.8 549.5 85.0Z"/>
<path d="M519.5 187.5 527.0 183.8 533.2 180.0 539.5 177.5 543.2 181.2 549.5 187.5 555.8 191.2 560.8 192.5 558.2 196.2 553.2 195.0 554.5 200.0 550.8 202.5 548.2 196.2 542.0 190.0 537.0 186.2 534.5 188.8 535.8 195.0 533.2 200.0"/>
<path d="M543.2 177.5 547.0 177.0 553.2 182.5 559.5 187.5 563.2 193.8 568.2 197.5 572.0 200.0 573.2 196.2 569.5 192.5 574.5 191.2 578.2 193.8 580.8 200.0 587.0 203.8 597.0 204.5 604.5 203.8 605.8 210.0 604.5 218.8 598.2 221.2 587.0 220.0 577.0 218.8 569.5 217.5 562.0 220.0 552.0 218.8 544.5 213.8 540.8 207.5 543.2 202.5 549.5 201.2"/>
<path d="M584.5 185.0 587.0 177.5 594.5 175.0 602.0 176.2 605.8 172.0 608.2 177.5 612.0 180.0 617.0 186.2 615.8 190.0 607.0 190.0 597.0 188.8 589.5 190.0Z"/>
<path d="M628.2 177.5 632.0 172.5 639.5 171.2 647.0 175.0 642.0 178.8 638.2 182.5 642.0 187.5 648.2 190.0 652.0 197.5 650.8 204.5 644.5 205.0 639.5 200.0 637.0 192.5 632.0 187.5 629.0 182.5Z"/>
<path d="M657.0 177.5 660.8 173.0 665.8 175.0 665.8 181.2 661.5 183.8 657.8 182.0Z"/>
<path d="M760.8 158.8 763.2 152.5 767.0 147.0"/>
<path d="M512.0 185.0 517.0 183.8 519.5 187.5"/>
</g>
<g clip-path="url(#c6)">
<path d="M768.0 101.2 778.0 100.0 785.5 98.8 786.8 101.2 795.5 101.2 808.0 102.5 823.0 105.0 840.5 106.2 853.0 106.2 854.2 108.8 868.0 108.8 878.0 113.8 888.0 118.8 895.5 122.5 900.5 125.5 893.0 128.8 885.5 132.5 878.0 135.0 876.8 132.5 870.5 135.0 869.2 128.8 866.8 126.2 864.2 131.2 855.5 131.2 856.8 135.0 845.5 135.0 835.5 135.0 830.5 137.5 828.0 145.0 826.8 148.8 835.5 151.2 845.5 152.5 851.8 156.2 856.8 162.5 861.8 170.0 868.0 178.8 873.0 182.5 878.0 182.5 875.5 187.5 870.5 185.0 866.8 190.0 863.0 185.0 859.2 177.5 854.2 170.0 853.0 178.8 850.5 183.8 844.2 187.5 843.0 195.0 846.8 202.5 849.2 210.0 845.5 211.2 841.8 205.0 838.0 200.0 834.2 196.2 830.5 197.5 828.0 195.0 821.8 192.5 818.0 196.2 819.2 200.0 824.2 201.2 828.0 205.0 830.5 210.0 834.2 215.0 835.5 222.5 838.0 227.5"/>
<path d="M870.5 135.0 873.0 142.5 878.0 148.8 884.2 156.2 889.2 160.0 888.0 150.0 885.5 142.5 884.2 137.5 881.8 133.8 878.0 135.0"/>
<path d="M864.2 165.0 866.8 172.5 869.2 180.0 871.8 187.5 873.0 195.0 870.5 196.2 868.0 188.8 865.5 181.2 863.5 172.5Z"/>
<path d="M863.0 198.8 870.5 197.5 878.0 200.0 875.5 205.0 868.0 206.2 864.2 203.8Z"/>
<path d="M868.0 207.5 875.5 207.5 879.2 212.5 878.0 220.0 873.0 225.0 866.8 227.5 858.0 225.0 853.0 227.5 858.0 222.5 865.5 220.0 869.2 213.8"/>
</g>
<g clip-path="url(#c9)">
<path d="M75.5 249.5 77.0 250.5"/>
<path d="M78.8 251.5 80.2 252.5"/>
<path d="M81.5 254.0 83.0 255.0"/>
<path d="M83.8 255.5 86.5 256.5 87.0 259.5 84.5 260.0 83.5 257.5Z"/>
<path d="M199.5 220.0 202.5 233.8 208.0 240.0 212.0 248.0 213.8 246.0 210.8 230.0 209.5 222.5"/>
<path d="M205.8 221.0 214.0 235.0 223.0 252.0 227.5 260.0 235.0 265.0 245.0 268.8 257.5 272.5"/>
<path d="M247.0 250.0 248.0 253.8 251.2 255.5 257.5 256.5"/>
</g>
<g clip-path="url(#c10)">
<path d="M281.0 250.0 288.5 247.5 296.0 248.8 303.5 252.5 311.0 256.2 316.0 258.8 309.8 258.8 302.2 255.0 293.5 252.0 286.0 252.0Z"/>
<path d="M307.2 262.5 316.0 262.0 323.5 263.0 322.2 265.0 314.8 265.0 308.5 264.5Z"/>
<path d="M327.2 263.0 330.5 263.2"/>
<path d="M297.2 263.0 301.5 263.8"/>
<path d="M256.0 256.2 261.0 260.0 267.2 257.5 269.8 252.5 273.5 252.0 272.2 257.5 271.0 262.5 268.5 267.5 273.5 270.0 278.5 271.2 281.0 275.0 279.8 281.2 283.5 287.5 288.5 291.2 293.5 292.5 297.2 288.8 302.2 285.0 309.8 283.0 316.0 282.0 319.8 285.0 328.5 286.2 336.0 287.5 342.2 290.0 346.0 295.0 352.2 298.8 361.0 302.5 368.5 308.8 372.2 316.2 373.5 321.2 378.5 321.2 386.0 323.8 396.0 327.5 406.0 330.0 413.5 335.0 416.0 341.2 414.8 350.0 411.0 360.0 407.2 370.0 404.8 380.0 402.2 392.5"/>
<path d="M256.0 273.8 263.5 278.8 271.0 285.0 278.5 291.2 284.8 294.5 289.8 296.2 293.5 297.5 296.0 302.5 293.5 310.0 289.8 317.5 286.5 325.0 285.5 331.2 288.5 340.0 293.5 350.0 298.5 360.0 304.8 367.5 312.2 375.0 317.2 382.5 318.5 392.5"/>
<path d="M312.2 285.0 314.0 290.0 311.5 291.2"/>
<path d="M484.8 223.8 478.5 230.0 471.0 237.5 467.2 247.5 464.8 257.5 464.0 267.5 464.8 275.0 468.5 282.5 473.5 290.0 478.5 296.2 484.8 301.2 491.0 305.0 499.8 305.5 513.5 303.8"/>
<path d="M448.0 272.0 449.5 273.0"/>
<path d="M299.2 241.2 300.5 244.5"/>
</g>
<g clip-path="url(#c11)">
<path d="M512.0 302.5 517.0 300.0 523.2 301.2 527.0 306.2 534.5 307.5 538.2 312.5 537.0 320.0 539.5 327.5 544.5 332.5 549.5 342.5 550.8 352.5 548.2 362.5 545.8 372.5 547.0 382.5 550.8 392.5"/>
<path d="M598.2 226.2 603.2 235.0 609.5 246.2 615.8 257.5 622.0 267.5 628.2 276.2 631.5 280.5 630.8 283.8 637.0 286.2 647.0 284.5 653.2 283.8 652.0 291.2 648.2 298.8 643.2 306.2 637.0 313.8 630.8 321.2 625.8 327.5 622.0 335.0 620.8 343.8 623.2 352.5 623.2 361.2 619.5 368.8 612.0 376.2 607.0 382.5 605.8 392.5"/>
<path d="M605.8 226.2 610.8 236.2 617.0 247.5 623.2 257.5 628.2 266.2 631.5 273.8 633.2 278.8 642.0 275.0 652.0 271.2 662.0 265.0 669.5 257.5 674.5 250.0 670.8 245.0 665.8 238.8 662.0 241.2 657.0 243.8 652.0 240.0 648.2 233.8 643.2 227.5 640.8 223.8"/>
<path d="M662.0 237.5 667.0 238.8 677.0 240.0 687.0 241.2 695.8 242.5 700.8 248.8 705.8 251.2 709.5 250.0 712.0 257.5 714.5 266.2 718.2 276.2 723.2 286.2 727.0 293.8 730.8 291.2 732.0 283.8 733.2 273.8 737.0 267.5 743.2 262.5 749.5 255.0 755.8 250.0 762.0 248.8 769.5 255.0"/>
<path d="M732.0 290.5 735.8 289.5 739.0 295.0 737.0 300.5 733.2 298.8Z"/>
<path d="M599.5 321.2 603.2 319.5 607.0 321.2 606.5 327.0 600.8 328.0Z"/>
<path d="M629.5 392.5 631.5 381.2 634.5 372.5 639.5 365.0 645.8 358.8 649.5 360.0 650.8 367.5 648.2 377.5 644.5 387.5 643.2 392.5"/>
<path d="M598.2 226.2 599.5 223.8"/>
</g>
<g clip-path="url(#c12)">
<path d="M875.5 321.2 879.2 320.0 884.2 322.5 886.8 327.5 893.0 326.2 900.5 325.0 908.0 326.2 915.5 330.0 919.2 337.5 923.0 345.0 928.0 351.2 924.2 352.5 918.0 346.2 913.0 345.0 906.8 348.8 900.5 347.5 895.5 342.5 891.8 336.2 885.5 332.5 880.5 332.5 878.0 326.2Z"/>
<path d="M881.0 357.0 883.5 356.5 886.8 357.5 890.5 361.2 889.2 367.5 893.0 372.5 898.0 375.0 901.8 368.8 903.0 361.2 904.2 355.0 906.8 361.2 909.2 370.0 913.0 380.0 916.8 387.5 919.2 393.8"/>
</g>
<g clip-path="url(#c13)">
<path d="M838.0 224.4 837.4 232.5 835.5 238.8 830.5 245.0 823.0 248.8 816.8 251.9 811.8 253.1 805.5 253.1 801.8 256.2 801.1 261.2 804.2 266.2 809.2 271.2 813.0 275.0 814.9 281.2 814.2 285.0 809.2 287.5 805.5 292.5 803.0 291.2 800.5 287.5 795.5 282.5 790.5 278.8 788.0 280.0 786.8 285.0 787.4 291.2 789.2 297.5 793.0 302.5 796.8 306.2 799.2 309.4"/>
<path d="M810.5 258.1 813.6 257.2 815.2 260.0 813.0 262.5 810.5 261.9Z"/>
<path d="M839.9 241.9 842.4 241.2 843.0 246.2 841.1 250.0 839.2 246.9Z"/>
<path d="M768.0 258.8 770.5 262.5 773.0 268.8 778.0 268.1 780.5 271.2 783.0 277.5 784.9 285.0 785.5 292.5 788.0 297.5 789.9 302.5 791.1 308.8"/>
<path d="M776.8 303.1 780.5 302.8 784.2 305.0 788.0 309.4"/>
<path d="M843.0 262.5 846.8 261.9 848.6 266.2 848.0 271.2 850.5 275.0 855.5 277.5 854.2 279.4 849.2 277.5 845.5 275.0 843.0 270.0 842.0 266.2Z"/>
<path d="M851.8 297.5 854.2 295.0 858.0 292.5 861.8 290.6 864.2 295.0 863.6 300.0 860.5 301.2 858.0 298.8 855.5 297.5 853.0 298.8Z"/>
<path d="M830.5 307.5 834.2 301.2 838.0 299.4 841.8 302.5 843.0 307.5"/>
</g>
<g clip-path="url(#c14)">
<path d="M779.2 306.4 784.2 310.8 789.2 317.0 793.0 324.5 796.8 330.8 801.8 336.4 805.5 338.2 806.8 333.9 805.5 328.2 803.0 323.2 799.2 318.2 796.8 313.2 793.0 308.9 791.8 306.4"/>
<path d="M786.8 306.4 790.5 310.8 794.2 314.5 798.0 318.2 800.5 315.8 799.9 311.4 798.6 306.4"/>
<path d="M805.5 338.9 810.5 340.1 815.5 341.4 820.5 342.6 825.5 344.5 829.2 345.1 829.9 347.0 825.5 346.8 820.5 345.5 815.5 344.5 810.5 343.2 806.1 341.4Z"/>
<path d="M828.0 306.4 825.5 309.5 821.8 312.0 818.0 314.5 816.1 317.0 816.8 320.8 819.2 325.8 819.9 329.5 824.2 330.1 829.2 331.4 833.0 332.6 835.5 329.5 836.8 324.5 839.2 320.8 840.5 317.0 841.8 313.2 841.1 309.5 843.0 306.4"/>
<path d="M844.2 320.8 849.2 318.9 855.5 318.2 860.5 316.4 859.9 318.2 855.5 320.1 851.8 321.4 854.2 325.8 856.8 329.5 855.5 335.8 853.0 334.5 851.8 329.5 849.2 327.0 848.0 332.0 848.0 337.0 844.9 337.6 845.5 332.0 844.2 325.8Z"/>
<path d="M826.8 390.8 833.0 387.0 840.5 383.2 845.5 378.2 850.5 374.5 854.2 370.8 859.2 367.0 864.2 365.8 868.0 368.2 870.5 365.8 873.0 360.8 878.0 357.6 880.5 358.0"/>
</g>
<g clip-path="url(#c16)">
<path d="M247.0 253.8 247.6 240.0 250.8 232.5 257.0 228.1 263.2 226.9 268.2 228.1 272.0 225.0 279.5 224.8 287.0 226.2 290.8 232.5 292.0 238.8 294.5 241.2 295.8 235.0 294.5 225.0 298.2 217.5 304.5 211.2 310.8 207.5 313.2 202.5 315.8 197.5 317.0 195.6"/>
</g>
<g clip-path="url(#c18)">
<path d="M318.5 388.8 318.5 400.0 319.0 412.5 319.8 425.0 321.5 437.5 324.8 450.0 327.2 457.5 326.0 465.0 328.5 472.5 332.2 480.0 337.2 486.2 343.5 490.0 351.0 492.5 358.5 492.0 352.2 489.5 348.5 486.2 347.2 482.5 348.5 472.5 346.0 467.5 344.8 462.5 348.5 458.8 346.0 453.8 349.8 450.0 352.2 443.8 357.2 441.2 363.5 438.8 362.2 433.8 358.5 430.0 363.5 428.8 371.0 426.2 376.0 420.0 379.8 412.5 381.0 403.8 386.0 397.5 396.0 395.0 402.2 388.8"/>
<path d="M333.5 481.2 341.0 486.2 349.8 488.8 357.2 491.2"/>
</g>
<g clip-path="url(#c19)">
<path d="M549.5 388.8 552.0 397.5 555.8 407.5 558.2 417.5 560.8 426.2 564.5 428.8 572.0 428.8 580.8 427.5 587.0 425.0 592.0 420.0 595.8 413.8 599.5 406.2 604.5 401.2 608.2 395.0 608.2 388.8"/>
<path d="M629.5 388.8 630.8 396.2 634.5 400.5 639.5 398.8 642.0 392.5 642.5 388.8"/>
</g>
<g clip-path="url(#c20)">
<path d="M830.5 387.0 826.0 390.5 821.8 393.0 819.2 398.8 818.0 405.0 819.2 412.5 818.0 420.0 815.5 427.5 818.0 430.5 825.5 429.5 833.0 426.2 840.5 423.8 850.5 421.2 860.5 421.2 866.8 425.0 869.2 430.0 871.8 427.5 874.2 425.0 875.5 430.0 876.8 436.2 879.2 440.0 885.5 442.5 889.2 440.0 893.0 442.5 900.5 440.0 908.0 433.8 914.2 426.2 919.2 418.8 924.2 411.2 926.0 403.8 924.2 396.2 920.5 388.8"/>
<path d="M880.5 451.2 885.5 449.5 890.5 450.0 888.0 455.5 883.0 458.0 880.5 455.0Z"/>
<path d="M966.8 430.0 969.2 433.8 968.0 438.8 974.2 440.0 970.5 443.8 965.5 446.2 961.8 443.8 963.0 440.0 965.5 436.2Z"/>
<path d="M961.8 446.2 955.5 451.2 948.0 456.2 940.5 460.0 933.0 463.8 926.8 466.2 925.5 463.0 933.0 460.0 940.5 456.2 948.0 452.5 954.2 448.8 959.2 445.5Z"/>
</g>
<g clip-path="url(#c21)">
<path d="M224.9 553.6 234.9 554.8 239.9 551.1 244.9 548.6 249.9 549.8 254.8 547.3 264.8 546.1 272.3 548.6 276.0 543.6 284.8 544.3 294.7 546.8 302.2 546.1 309.7 547.3 317.2 542.3 324.7 544.8 332.1 542.3 344.6 541.8 359.6 541.1 364.6 537.4 369.6 533.6 372.0 527.4 375.8 523.6 382.0 518.7 388.3 517.4 384.5 522.4 379.5 527.4 382.0 534.9 387.0 538.6 393.2 539.9 397.0 544.8 392.0 551.1 397.0 553.6 409.5 554.8 424.4 556.1 439.4 556.1 446.9 554.8"/>
<path d="M224.9 553.6 234.9 556.1 244.9 559.8 249.9 563.5 257.3 561.0 262.3 566.0 269.8 568.5 277.3 568.5 252.3 569.3 229.9 569.8"/>
</g>
<g clip-path="url(#c22)">
<path d="M444.8 554.8 458.5 549.8 470.9 544.8 483.4 541.1 489.6 538.6 495.9 537.9 503.4 536.9 510.8 538.6 520.8 536.1 535.8 535.4 550.7 536.1 560.7 536.9 570.7 534.4 580.7 531.9 585.7 533.6 590.6 534.9 598.1 531.1 608.1 528.6 618.1 525.4 624.3 524.4 630.5 526.1 640.5 528.6 650.5 529.4 654.2 532.4 651.7 536.1 660.5 534.4 670.4 531.1 680.4 527.9 690.4 526.1 702.9 524.9"/>
</g>
<g clip-path="url(#c23)">
<path d="M700.8 526.1 712.0 526.1 722.0 524.4 729.4 523.6 739.4 526.1 749.4 523.6 759.4 524.9 769.3 525.4 778.1 524.9 780.6 527.4 786.8 524.4 801.8 524.9 809.2 527.4 816.7 529.9 826.7 532.4 834.2 534.9 841.7 536.1 847.9 538.6 841.7 541.1 831.7 543.6 821.7 547.3 811.7 551.1 804.2 554.8 794.3 557.3 786.8 560.3 784.3 563.5 788.0 566.0 796.8 567.3 806.7 566.0"/>
</g>
<g clip-path="url(#c24)">
<path d="M258.5 93.8 263.5 90.0 269.8 89.4 272.2 92.5 268.5 96.2 262.2 97.5Z"/>
<path d="M274.8 100.0 281.0 96.2 291.0 95.6 299.8 97.5 306.0 100.0 303.5 105.0 296.0 107.5 287.2 108.1 278.5 106.2Z"/>
<path d="M268.5 88.8 278.5 86.9 288.5 86.2 297.2 87.5 293.5 90.6 283.5 91.2 273.5 91.9Z"/>
<path d="M308.5 91.2 314.8 90.0 318.5 93.8 316.0 98.8 311.0 98.1Z"/>
<path d="M321.0 87.5 327.2 86.9 329.8 91.2 326.0 95.0 321.6 92.5Z"/>
<path d="M331.0 86.2 341.0 85.0 348.5 86.2 346.0 89.4 337.2 90.0 332.2 89.0Z"/>
<path d="M338.5 82.5 348.5 80.0 359.8 78.8 368.5 79.4 376.0 78.8 381.0 80.6 373.5 82.5 363.5 82.8 356.0 84.8 348.5 84.4 342.2 84.4Z"/>
<path d="M336.0 91.2 343.5 90.0 351.0 90.6 359.8 93.8 368.5 98.8 374.8 105.0 378.5 111.2 382.2 116.2 376.0 116.2 368.5 113.8 371.0 118.8 366.0 120.0 361.0 116.2 362.2 111.2 356.0 106.9 348.5 107.5 343.5 105.0 341.0 100.0 337.2 96.2Z"/>
<path d="M326.0 121.2 331.0 118.8 336.0 120.0 334.8 123.8 329.8 125.0Z"/>
<path d="M299.8 88.8 306.0 87.5 309.8 89.4 306.0 91.9 301.0 91.2Z"/>
</g>
</g>
<path d="M0 320.3H1027" stroke="#000" stroke-width="1" opacity="0.8" fill="none"/><path d="M511.8 60V580" stroke="#000" stroke-width="1.4" opacity="0.75" fill="none"/>
</g>
<path d="M779.0 66.0 L782.9 67.2 L786.8 68.3 L790.7 69.4 L794.7 70.7 L799.0 72.1 L803.7 73.7 L808.5 75.5 L813.5 77.4 L818.6 79.3 L823.7 81.4 L828.9 83.6 L834.2 85.9 L839.5 88.2 L844.7 90.6 L849.7 93.1 L854.5 95.5 L859.2 98.0 L863.7 100.6 L868.2 103.2 L872.5 105.8 L876.8 108.4 L881.0 111.1 L885.1 113.8 L889.1 116.6 L893.2 119.3 L897.2 122.1 L901.1 124.9 L905.0 127.8 L908.9 130.6 L912.7 133.5 L916.5 136.4 L920.2 139.3 L923.8 142.2 L927.4 145.2 L931.0 148.2 L934.4 151.1 L937.8 154.2 L941.1 157.2 L944.4 160.2 L947.5 163.2 L950.5 166.3 L953.4 169.4 L956.2 172.4 L959.0 175.5 L961.7 178.6 L964.4 181.7 L967.0 184.8 L969.6 188.0 L972.1 191.1 L974.4 194.2 L976.7 197.4 L978.9 200.5 L981.0 203.6 L983.1 206.8 L985.0 209.9 L986.9 213.1 L988.8 216.2 L990.5 219.4 L992.2 222.5 L993.7 225.7 L995.2 228.9 L996.6 232.0 L997.9 235.2 L999.1 238.3 L1000.2 241.5 L1001.3 244.6 L1002.3 247.8 L1003.2 250.9 L1004.0 254.1 L1004.9 257.2 L1005.7 260.4 L1006.5 263.5 L1007.3 266.7 L1008.1 269.8 L1008.8 273.0 L1009.4 276.2 L1010.0 279.3 L1010.5 282.5 L1011.0 285.6 L1011.5 288.8 L1011.9 291.9 L1012.3 295.1 L1012.6 298.2 L1012.9 301.4 L1013.1 304.5 L1013.3 308.2 L1013.5 312.4 L1013.7 316.3 L1013.8 319.2 L1013.8 320.3 L1013.8 321.4 L1013.7 324.3 L1013.5 328.2 L1013.3 332.4 L1013.1 336.1 L1012.9 339.2 L1012.6 342.4 L1012.3 345.5 L1011.9 348.7 L1011.5 351.8 L1011.0 355.0 L1010.5 358.1 L1010.0 361.3 L1009.4 364.4 L1008.8 367.6 L1008.1 370.8 L1007.3 373.9 L1006.5 377.1 L1005.7 380.2 L1004.9 383.4 L1004.0 386.5 L1003.2 389.7 L1002.3 392.8 L1001.3 396.0 L1000.2 399.1 L999.1 402.3 L997.9 405.4 L996.6 408.6 L995.2 411.7 L993.7 414.9 L992.2 418.1 L990.5 421.2 L988.8 424.4 L986.9 427.5 L985.0 430.7 L983.1 433.8 L981.0 437.0 L978.9 440.1 L976.7 443.2 L974.4 446.4 L972.1 449.5 L969.6 452.6 L967.0 455.8 L964.4 458.9 L961.7 462.0 L959.0 465.1 L956.2 468.2 L953.4 471.2 L950.5 474.3 L947.5 477.4 L944.4 480.4 L941.1 483.4 L937.8 486.4 L934.4 489.5 L931.0 492.4 L927.4 495.4 L923.8 498.4 L920.2 501.3 L916.5 504.2 L912.7 507.1 L908.9 510.0 L905.0 512.8 L901.1 515.7 L897.2 518.5 L893.2 521.3 L889.1 524.0 L885.1 526.8 L881.0 529.5 L876.8 532.2 L872.5 534.8 L868.2 537.4 L863.7 540.0 L859.2 542.6 L854.5 545.1 L849.7 547.5 L844.7 550.0 L839.5 552.4 L834.2 554.7 L828.9 557.0 L823.7 559.2 L818.6 561.3 L813.5 563.2 L808.5 565.1 L803.7 566.9 L799.0 568.5 L794.7 569.9 L790.7 571.2 L786.8 572.3 L782.9 573.4 L779.0 574.6 L244.6 574.6 L240.7 573.4 L236.8 572.3 L232.9 571.2 L228.9 569.9 L224.6 568.5 L219.9 566.9 L215.1 565.1 L210.1 563.2 L205.0 561.3 L199.9 559.2 L194.7 557.0 L189.4 554.7 L184.1 552.4 L178.9 550.0 L173.9 547.5 L169.1 545.1 L164.4 542.6 L159.9 540.0 L155.4 537.4 L151.1 534.8 L146.8 532.2 L142.6 529.5 L138.5 526.8 L134.5 524.0 L130.4 521.3 L126.4 518.5 L122.5 515.7 L118.6 512.8 L114.7 510.0 L110.9 507.1 L107.1 504.2 L103.4 501.3 L99.8 498.4 L96.2 495.4 L92.6 492.4 L89.2 489.5 L85.8 486.4 L82.5 483.4 L79.2 480.4 L76.1 477.4 L73.1 474.3 L70.2 471.2 L67.4 468.2 L64.6 465.1 L61.9 462.0 L59.2 458.9 L56.6 455.8 L54.0 452.6 L51.5 449.5 L49.2 446.4 L46.9 443.2 L44.7 440.1 L42.6 437.0 L40.5 433.8 L38.6 430.7 L36.7 427.5 L34.8 424.4 L33.1 421.2 L31.4 418.1 L29.9 414.9 L28.4 411.7 L27.0 408.6 L25.7 405.4 L24.5 402.3 L23.4 399.1 L22.3 396.0 L21.3 392.8 L20.4 389.7 L19.6 386.5 L18.7 383.4 L17.9 380.2 L17.1 377.1 L16.3 373.9 L15.5 370.8 L14.8 367.6 L14.2 364.4 L13.6 361.3 L13.1 358.1 L12.6 355.0 L12.1 351.8 L11.7 348.7 L11.3 345.5 L11.0 342.4 L10.7 339.2 L10.5 336.1 L10.3 332.4 L10.1 328.2 L9.9 324.3 L9.8 321.4 L9.8 320.3 L9.8 319.2 L9.9 316.3 L10.1 312.4 L10.3 308.2 L10.5 304.5 L10.7 301.4 L11.0 298.2 L11.3 295.1 L11.7 291.9 L12.1 288.8 L12.6 285.6 L13.1 282.5 L13.6 279.3 L14.2 276.2 L14.8 273.0 L15.5 269.8 L16.3 266.7 L17.1 263.5 L17.9 260.4 L18.7 257.2 L19.6 254.1 L20.4 250.9 L21.3 247.8 L22.3 244.6 L23.4 241.5 L24.5 238.3 L25.7 235.2 L27.0 232.0 L28.4 228.9 L29.9 225.7 L31.4 222.5 L33.1 219.4 L34.8 216.2 L36.7 213.1 L38.6 209.9 L40.5 206.8 L42.6 203.6 L44.7 200.5 L46.9 197.4 L49.2 194.2 L51.5 191.1 L54.0 188.0 L56.6 184.8 L59.2 181.7 L61.9 178.6 L64.6 175.5 L67.4 172.4 L70.2 169.4 L73.1 166.3 L76.1 163.2 L79.2 160.2 L82.5 157.2 L85.8 154.2 L89.2 151.1 L92.6 148.2 L96.2 145.2 L99.8 142.2 L103.4 139.3 L107.1 136.4 L110.9 133.5 L114.7 130.6 L118.6 127.8 L122.5 124.9 L126.4 122.1 L130.4 119.3 L134.5 116.6 L138.5 113.8 L142.6 111.1 L146.8 108.4 L151.1 105.8 L155.4 103.2 L159.9 100.6 L164.4 98.0 L169.1 95.5 L173.9 93.1 L178.9 90.6 L184.1 88.2 L189.4 85.9 L194.7 83.6 L199.9 81.4 L205.0 79.3 L210.1 77.4 L215.1 75.5 L219.9 73.7 L224.6 72.1 L228.9 70.7 L232.9 69.4 L236.8 68.3 L240.7 67.2 L244.6 66.0Z" fill="none" stroke="#000" stroke-width="1.8"/>
<text x="42.3" y="29.9" font-size="22.4" textLength="125.6" lengthAdjust="spacingAndGlyphs" text-anchor="start" fill="#1a1a1a" stroke="#1a1a1a" stroke-width="0.3">Annual J-D</text>
<text x="319.5" y="29.9" font-size="22.4" textLength="352.5" lengthAdjust="spacingAndGlyphs" text-anchor="start" fill="#1a1a1a" stroke="#1a1a1a" stroke-width="0.3">L-OTI(°C) Change 1880-2025</text>
<text x="903.9" y="29.9" font-size="22.4" textLength="50.4" lengthAdjust="spacingAndGlyphs" text-anchor="start" fill="#1a1a1a" stroke="#1a1a1a" stroke-width="0.3">1.25</text>
<path d="M216.0 597.6L185 606.3L216.0 615.0Z" fill="#8000ff"/>
<path d="M809.0 597.6L838 606.3L809.0 615.0Z" fill="#850000"/>
<rect x="216.00" y="597.6" width="54.21" height="17.4" fill="#8000ff"/>
<rect x="269.91" y="597.6" width="54.21" height="17.4" fill="#3f8fef"/>
<rect x="323.82" y="597.6" width="54.21" height="17.4" fill="#7fc7ff"/>
<rect x="377.73" y="597.6" width="54.21" height="17.4" fill="#9fe7ff"/>
<rect x="431.64" y="597.6" width="54.21" height="17.4" fill="#cfffcf"/>
<rect x="485.55" y="597.6" width="54.21" height="17.4" fill="#ffffff"/>
<rect x="539.45" y="597.6" width="54.21" height="17.4" fill="#ffff5f"/>
<rect x="593.36" y="597.6" width="54.21" height="17.4" fill="#ffcc00"/>
<rect x="647.27" y="597.6" width="54.21" height="17.4" fill="#ff8000"/>
<rect x="701.18" y="597.6" width="54.21" height="17.4" fill="#ff0000"/>
<rect x="755.09" y="597.6" width="54.21" height="17.4" fill="#850000"/>
<path d="M216.0 597.6L185 606.3L216.0 615.0L809.0 615.0L838 606.3L809.0 597.6Z" fill="none" stroke="#000" stroke-width="1.1" stroke-linejoin="miter"/>
<path d="M216.00 597.6V620.5" stroke="#000" stroke-width="1.1"/>
<text x="216.0" y="646.0" font-size="18.2" textLength="42.5" lengthAdjust="spacingAndGlyphs" text-anchor="middle" fill="#1a1a1a" stroke="#1a1a1a" stroke-width="0.3">−4.1</text>
<path d="M269.91 597.6V620.5" stroke="#000" stroke-width="1.1"/>
<text x="269.9" y="646.0" font-size="18.2" textLength="42.5" lengthAdjust="spacingAndGlyphs" text-anchor="middle" fill="#1a1a1a" stroke="#1a1a1a" stroke-width="0.3">−4.0</text>
<path d="M323.82 597.6V620.5" stroke="#000" stroke-width="1.1"/>
<text x="323.8" y="646.0" font-size="18.2" textLength="42.5" lengthAdjust="spacingAndGlyphs" text-anchor="middle" fill="#1a1a1a" stroke="#1a1a1a" stroke-width="0.3">−2.0</text>
<path d="M377.73 597.6V620.5" stroke="#000" stroke-width="1.1"/>
<text x="377.7" y="646.0" font-size="18.2" textLength="42.5" lengthAdjust="spacingAndGlyphs" text-anchor="middle" fill="#1a1a1a" stroke="#1a1a1a" stroke-width="0.3">−1.0</text>
<path d="M431.64 597.6V620.5" stroke="#000" stroke-width="1.1"/>
<text x="431.6" y="646.0" font-size="18.2" textLength="42.5" lengthAdjust="spacingAndGlyphs" text-anchor="middle" fill="#1a1a1a" stroke="#1a1a1a" stroke-width="0.3">−0.5</text>
<path d="M485.55 597.6V620.5" stroke="#000" stroke-width="1.1"/>
<text x="485.5" y="646.0" font-size="18.2" textLength="42.5" lengthAdjust="spacingAndGlyphs" text-anchor="middle" fill="#1a1a1a" stroke="#1a1a1a" stroke-width="0.3">−0.2</text>
<path d="M539.45 597.6V620.5" stroke="#000" stroke-width="1.1"/>
<text x="539.5" y="646.0" font-size="18.2" textLength="28.0" lengthAdjust="spacingAndGlyphs" text-anchor="middle" fill="#1a1a1a" stroke="#1a1a1a" stroke-width="0.3">0.2</text>
<path d="M593.36 597.6V620.5" stroke="#000" stroke-width="1.1"/>
<text x="593.4" y="646.0" font-size="18.2" textLength="28.0" lengthAdjust="spacingAndGlyphs" text-anchor="middle" fill="#1a1a1a" stroke="#1a1a1a" stroke-width="0.3">0.5</text>
<path d="M647.27 597.6V620.5" stroke="#000" stroke-width="1.1"/>
<text x="647.3" y="646.0" font-size="18.2" textLength="28.0" lengthAdjust="spacingAndGlyphs" text-anchor="middle" fill="#1a1a1a" stroke="#1a1a1a" stroke-width="0.3">1.0</text>
<path d="M701.18 597.6V620.5" stroke="#000" stroke-width="1.1"/>
<text x="701.2" y="646.0" font-size="18.2" textLength="28.0" lengthAdjust="spacingAndGlyphs" text-anchor="middle" fill="#1a1a1a" stroke="#1a1a1a" stroke-width="0.3">2.0</text>
<path d="M755.09 597.6V620.5" stroke="#000" stroke-width="1.1"/>
<text x="755.1" y="646.0" font-size="18.2" textLength="28.0" lengthAdjust="spacingAndGlyphs" text-anchor="middle" fill="#1a1a1a" stroke="#1a1a1a" stroke-width="0.3">4.0</text>
<path d="M809.00 597.6V620.5" stroke="#000" stroke-width="1.1"/>
<text x="809.0" y="646.0" font-size="18.2" textLength="28.0" lengthAdjust="spacingAndGlyphs" text-anchor="middle" fill="#1a1a1a" stroke="#1a1a1a" stroke-width="0.3">5.0</text>
</svg></body></html>
